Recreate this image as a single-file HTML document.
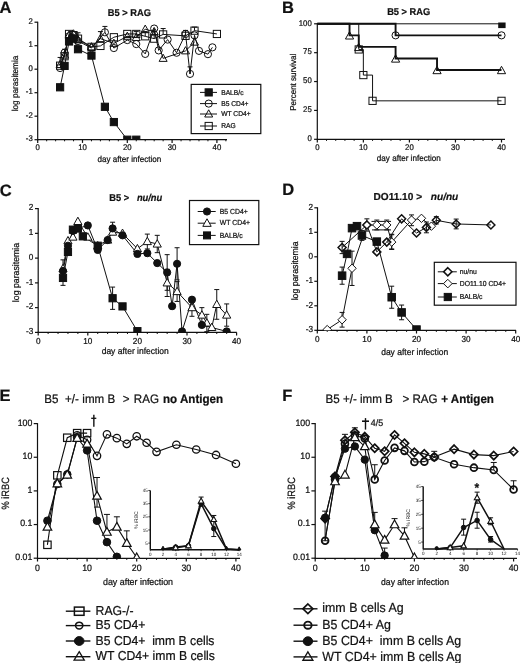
<!DOCTYPE html>
<html><head><meta charset="utf-8"><style>
html,body{margin:0;padding:0;background:#fff;}
svg{display:block;font-family:"Liberation Sans", sans-serif;filter:blur(0.3px);text-rendering:geometricPrecision;}
</style></head><body>
<svg width="520" height="663" viewBox="0 0 520 663">
<defs>
<clipPath id="clipA"><rect x="0" y="0" width="260" height="139.7"/></clipPath>
<clipPath id="clipC"><rect x="0" y="170" width="260" height="162.4"/></clipPath>
<clipPath id="clipD"><rect x="260" y="170" width="260" height="160.3"/></clipPath>
<clipPath id="clipE"><rect x="0" y="380" width="260" height="178.3"/></clipPath>
<clipPath id="clipF"><rect x="260" y="380" width="260" height="178.3"/></clipPath>
</defs>
<rect width="520" height="663" fill="#fff"/>
<text x="0" y="0" transform="translate(-0.5 12.6)" font-size="16.5" text-anchor="start" font-weight="bold" font-style="normal" fill="#111" stroke="#111" stroke-width="0.22">A</text>
<text x="0" y="0" transform="translate(129.3 15.6) scale(1 1.06)" font-size="9.3" text-anchor="middle" font-weight="bold" font-style="normal" fill="#111" stroke="#111" stroke-width="0.22">B5 &gt; RAG</text>
<line x1="37.7" y1="21.7" x2="37.7" y2="140.2" stroke="#111" stroke-width="1.2"/>
<line x1="34.5" y1="22.2" x2="37.7" y2="22.2" stroke="#111" stroke-width="1.2"/>
<text x="0" y="0" transform="translate(32.8 23.92) scale(1 1.06)" font-size="7.8" text-anchor="end" font-weight="normal" font-style="normal" fill="#111" stroke="#111" stroke-width="0.22">2</text>
<line x1="34.5" y1="45.7" x2="37.7" y2="45.7" stroke="#111" stroke-width="1.2"/>
<text x="0" y="0" transform="translate(32.8 47.42) scale(1 1.06)" font-size="7.8" text-anchor="end" font-weight="normal" font-style="normal" fill="#111" stroke="#111" stroke-width="0.22">1</text>
<line x1="34.5" y1="69.2" x2="37.7" y2="69.2" stroke="#111" stroke-width="1.2"/>
<text x="0" y="0" transform="translate(32.8 70.92) scale(1 1.06)" font-size="7.8" text-anchor="end" font-weight="normal" font-style="normal" fill="#111" stroke="#111" stroke-width="0.22">0</text>
<line x1="34.5" y1="92.7" x2="37.7" y2="92.7" stroke="#111" stroke-width="1.2"/>
<text x="0" y="0" transform="translate(32.8 94.42) scale(1 1.06)" font-size="7.8" text-anchor="end" font-weight="normal" font-style="normal" fill="#111" stroke="#111" stroke-width="0.22">-1</text>
<line x1="34.5" y1="116.2" x2="37.7" y2="116.2" stroke="#111" stroke-width="1.2"/>
<text x="0" y="0" transform="translate(32.8 117.92) scale(1 1.06)" font-size="7.8" text-anchor="end" font-weight="normal" font-style="normal" fill="#111" stroke="#111" stroke-width="0.22">-2</text>
<line x1="34.5" y1="139.7" x2="37.7" y2="139.7" stroke="#111" stroke-width="1.2"/>
<text x="0" y="0" transform="translate(32.8 141.42) scale(1 1.06)" font-size="7.8" text-anchor="end" font-weight="normal" font-style="normal" fill="#111" stroke="#111" stroke-width="0.22">-3</text>
<line x1="37.2" y1="139.7" x2="227" y2="139.7" stroke="#111" stroke-width="1.2"/>
<line x1="37.7" y1="139.7" x2="37.7" y2="142.9" stroke="#111" stroke-width="1.2"/>
<text x="0" y="0" transform="translate(37.7 149.6) scale(1 1.06)" font-size="7.8" text-anchor="middle" font-weight="normal" font-style="normal" fill="#111" stroke="#111" stroke-width="0.22">0</text>
<line x1="82.5" y1="139.7" x2="82.5" y2="142.9" stroke="#111" stroke-width="1.2"/>
<text x="0" y="0" transform="translate(82.5 149.6) scale(1 1.06)" font-size="7.8" text-anchor="middle" font-weight="normal" font-style="normal" fill="#111" stroke="#111" stroke-width="0.22">10</text>
<line x1="127.3" y1="139.7" x2="127.3" y2="142.9" stroke="#111" stroke-width="1.2"/>
<text x="0" y="0" transform="translate(127.3 149.6) scale(1 1.06)" font-size="7.8" text-anchor="middle" font-weight="normal" font-style="normal" fill="#111" stroke="#111" stroke-width="0.22">20</text>
<line x1="172.1" y1="139.7" x2="172.1" y2="142.9" stroke="#111" stroke-width="1.2"/>
<text x="0" y="0" transform="translate(172.1 149.6) scale(1 1.06)" font-size="7.8" text-anchor="middle" font-weight="normal" font-style="normal" fill="#111" stroke="#111" stroke-width="0.22">30</text>
<line x1="216.9" y1="139.7" x2="216.9" y2="142.9" stroke="#111" stroke-width="1.2"/>
<text x="0" y="0" transform="translate(216.9 149.6) scale(1 1.06)" font-size="7.8" text-anchor="middle" font-weight="normal" font-style="normal" fill="#111" stroke="#111" stroke-width="0.22">40</text>
<line x1="46.66" y1="139.7" x2="46.66" y2="141.3" stroke="#111" stroke-width="1.0"/>
<line x1="55.62" y1="139.7" x2="55.62" y2="141.3" stroke="#111" stroke-width="1.0"/>
<line x1="64.58" y1="139.7" x2="64.58" y2="141.3" stroke="#111" stroke-width="1.0"/>
<line x1="73.54" y1="139.7" x2="73.54" y2="141.3" stroke="#111" stroke-width="1.0"/>
<line x1="91.46" y1="139.7" x2="91.46" y2="141.3" stroke="#111" stroke-width="1.0"/>
<line x1="100.42" y1="139.7" x2="100.42" y2="141.3" stroke="#111" stroke-width="1.0"/>
<line x1="109.38" y1="139.7" x2="109.38" y2="141.3" stroke="#111" stroke-width="1.0"/>
<line x1="118.34" y1="139.7" x2="118.34" y2="141.3" stroke="#111" stroke-width="1.0"/>
<line x1="136.26" y1="139.7" x2="136.26" y2="141.3" stroke="#111" stroke-width="1.0"/>
<line x1="145.22" y1="139.7" x2="145.22" y2="141.3" stroke="#111" stroke-width="1.0"/>
<line x1="154.18" y1="139.7" x2="154.18" y2="141.3" stroke="#111" stroke-width="1.0"/>
<line x1="163.14" y1="139.7" x2="163.14" y2="141.3" stroke="#111" stroke-width="1.0"/>
<line x1="181.06" y1="139.7" x2="181.06" y2="141.3" stroke="#111" stroke-width="1.0"/>
<line x1="190.02" y1="139.7" x2="190.02" y2="141.3" stroke="#111" stroke-width="1.0"/>
<line x1="198.98" y1="139.7" x2="198.98" y2="141.3" stroke="#111" stroke-width="1.0"/>
<line x1="207.94" y1="139.7" x2="207.94" y2="141.3" stroke="#111" stroke-width="1.0"/>
<line x1="225.86" y1="139.7" x2="225.86" y2="141.3" stroke="#111" stroke-width="1.0"/>
<text x="0" y="0" transform="translate(129.4 162.1) scale(1 1.06)" font-size="8.1" text-anchor="middle" font-weight="normal" font-style="normal" fill="#111" stroke="#111" stroke-width="0.22">day after infection</text>
<text x="0" y="0" transform="translate(18 83.5) rotate(-90) scale(1 1.06)" font-size="8.2" text-anchor="middle" font-weight="normal" font-style="normal" fill="#111" stroke="#111" stroke-width="0.22">log parasitemia</text>
<g clip-path="url(#clipA)">
<polyline points="60.1,65.67 64.58,56.27 69.06,33.95 73.54,35.12 78.02,38.65 91.46,46.87 100.42,45.93 113.86,37.24 127.3,33.95 136.26,33.95 145.22,36.3 154.18,38.65 163.14,34.42 185.54,35.83 194.5,30.66 216.9,33.95" fill="none" stroke="#111" stroke-width="1.0" stroke-linejoin="miter"/>
<polyline points="60.1,64.5 64.58,55.1 69.06,35.12 73.54,33.95 78.02,39.82 91.46,46.87 100.42,38.65 113.86,43.35 127.3,36.3 136.26,37.47 145.22,29.25 154.18,31.6 163.14,58.39 185.54,50.87 194.5,42.17" fill="none" stroke="#111" stroke-width="1.0" stroke-linejoin="miter"/>
<polyline points="60.1,68.02 64.58,52.75 69.06,36.3 73.54,35.12 78.02,41 91.46,48.05 104.9,32.3 113.86,48.05 127.3,40.06 136.26,44.05 145.22,53.92 154.18,28.54 158.66,50.4 167.62,39.59 176.58,52.75 185.54,33.95 190.02,73.9 194.5,35.36 198.98,50.87 207.94,54.16 212.42,47.34" fill="none" stroke="#111" stroke-width="1.0" stroke-linejoin="miter"/>
<polyline points="60.1,87.29 64.58,65.91 69.06,41.47 73.54,38.65 78.02,49.22 91.46,55.57 104.9,106.8 113.86,122.07 127.3,139.7 136.26,139.7" fill="none" stroke="#111" stroke-width="1.0" stroke-linejoin="miter"/>
<line x1="60.1" y1="65.67" x2="60.1" y2="57.45" stroke="#111" stroke-width="1.0"/>
<line x1="57.6" y1="57.45" x2="62.6" y2="57.45" stroke="#111" stroke-width="1.0"/>
<line x1="64.58" y1="56.27" x2="64.58" y2="49.22" stroke="#111" stroke-width="1.0"/>
<line x1="62.08" y1="49.22" x2="67.08" y2="49.22" stroke="#111" stroke-width="1.0"/>
<line x1="78.02" y1="38.65" x2="78.02" y2="32.77" stroke="#111" stroke-width="1.0"/>
<line x1="75.52" y1="32.77" x2="80.52" y2="32.77" stroke="#111" stroke-width="1.0"/>
<line x1="100.42" y1="38.65" x2="100.42" y2="31.6" stroke="#111" stroke-width="1.0"/>
<line x1="97.92" y1="31.6" x2="102.92" y2="31.6" stroke="#111" stroke-width="1.0"/>
<line x1="145.22" y1="36.3" x2="145.22" y2="31.6" stroke="#111" stroke-width="1.0"/>
<line x1="142.72" y1="31.6" x2="147.72" y2="31.6" stroke="#111" stroke-width="1.0"/>
<line x1="154.18" y1="38.65" x2="154.18" y2="31.6" stroke="#111" stroke-width="1.0"/>
<line x1="151.68" y1="31.6" x2="156.68" y2="31.6" stroke="#111" stroke-width="1.0"/>
<line x1="163.14" y1="34.42" x2="163.14" y2="28.54" stroke="#111" stroke-width="1.0"/>
<line x1="160.64" y1="28.54" x2="165.64" y2="28.54" stroke="#111" stroke-width="1.0"/>
<line x1="190.02" y1="73.9" x2="190.02" y2="66.85" stroke="#111" stroke-width="1.0"/>
<line x1="187.52" y1="66.85" x2="192.52" y2="66.85" stroke="#111" stroke-width="1.0"/>
<line x1="194.5" y1="30.66" x2="194.5" y2="27.13" stroke="#111" stroke-width="1.0"/>
<line x1="192" y1="27.13" x2="197" y2="27.13" stroke="#111" stroke-width="1.0"/>
<line x1="185.54" y1="33.95" x2="185.54" y2="30.42" stroke="#111" stroke-width="1.0"/>
<line x1="183.04" y1="30.42" x2="188.04" y2="30.42" stroke="#111" stroke-width="1.0"/>
<line x1="104.9" y1="32.3" x2="104.9" y2="26.43" stroke="#111" stroke-width="1.0"/>
<line x1="102.4" y1="26.43" x2="107.4" y2="26.43" stroke="#111" stroke-width="1.0"/>
<line x1="136.26" y1="37.47" x2="136.26" y2="31.6" stroke="#111" stroke-width="1.0"/>
<line x1="133.76" y1="31.6" x2="138.76" y2="31.6" stroke="#111" stroke-width="1.0"/>
<rect x="56.5" y="62.07" width="7.2" height="7.2" fill="none" stroke="#111" stroke-width="1.0"/>
<rect x="60.98" y="52.67" width="7.2" height="7.2" fill="none" stroke="#111" stroke-width="1.0"/>
<rect x="65.46" y="30.35" width="7.2" height="7.2" fill="none" stroke="#111" stroke-width="1.0"/>
<rect x="69.94" y="31.52" width="7.2" height="7.2" fill="none" stroke="#111" stroke-width="1.0"/>
<rect x="74.42" y="35.05" width="7.2" height="7.2" fill="none" stroke="#111" stroke-width="1.0"/>
<rect x="87.86" y="43.27" width="7.2" height="7.2" fill="none" stroke="#111" stroke-width="1.0"/>
<rect x="96.82" y="42.33" width="7.2" height="7.2" fill="none" stroke="#111" stroke-width="1.0"/>
<rect x="110.26" y="33.64" width="7.2" height="7.2" fill="none" stroke="#111" stroke-width="1.0"/>
<rect x="123.7" y="30.35" width="7.2" height="7.2" fill="none" stroke="#111" stroke-width="1.0"/>
<rect x="132.66" y="30.35" width="7.2" height="7.2" fill="none" stroke="#111" stroke-width="1.0"/>
<rect x="141.62" y="32.7" width="7.2" height="7.2" fill="none" stroke="#111" stroke-width="1.0"/>
<rect x="150.58" y="35.05" width="7.2" height="7.2" fill="none" stroke="#111" stroke-width="1.0"/>
<rect x="159.54" y="30.82" width="7.2" height="7.2" fill="none" stroke="#111" stroke-width="1.0"/>
<rect x="181.94" y="32.23" width="7.2" height="7.2" fill="none" stroke="#111" stroke-width="1.0"/>
<rect x="190.9" y="27.06" width="7.2" height="7.2" fill="none" stroke="#111" stroke-width="1.0"/>
<rect x="213.3" y="30.35" width="7.2" height="7.2" fill="none" stroke="#111" stroke-width="1.0"/>
<polygon points="60.1,60.3 64.1,67.5 56.1,67.5" fill="none" stroke="#111" stroke-width="1.0" stroke-linejoin="miter"/>
<polygon points="64.58,50.9 68.58,58.1 60.58,58.1" fill="none" stroke="#111" stroke-width="1.0" stroke-linejoin="miter"/>
<polygon points="69.06,30.92 73.06,38.12 65.06,38.12" fill="none" stroke="#111" stroke-width="1.0" stroke-linejoin="miter"/>
<polygon points="73.54,29.75 77.54,36.95 69.54,36.95" fill="none" stroke="#111" stroke-width="1.0" stroke-linejoin="miter"/>
<polygon points="78.02,35.62 82.02,42.82 74.02,42.82" fill="none" stroke="#111" stroke-width="1.0" stroke-linejoin="miter"/>
<polygon points="91.46,42.67 95.46,49.87 87.46,49.87" fill="none" stroke="#111" stroke-width="1.0" stroke-linejoin="miter"/>
<polygon points="100.42,34.45 104.42,41.65 96.42,41.65" fill="none" stroke="#111" stroke-width="1.0" stroke-linejoin="miter"/>
<polygon points="113.86,39.15 117.86,46.35 109.86,46.35" fill="none" stroke="#111" stroke-width="1.0" stroke-linejoin="miter"/>
<polygon points="127.3,32.1 131.3,39.3 123.3,39.3" fill="none" stroke="#111" stroke-width="1.0" stroke-linejoin="miter"/>
<polygon points="136.26,33.27 140.26,40.47 132.26,40.47" fill="none" stroke="#111" stroke-width="1.0" stroke-linejoin="miter"/>
<polygon points="145.22,25.05 149.22,32.25 141.22,32.25" fill="none" stroke="#111" stroke-width="1.0" stroke-linejoin="miter"/>
<polygon points="154.18,27.4 158.18,34.6 150.18,34.6" fill="none" stroke="#111" stroke-width="1.0" stroke-linejoin="miter"/>
<polygon points="163.14,54.19 167.14,61.39 159.14,61.39" fill="none" stroke="#111" stroke-width="1.0" stroke-linejoin="miter"/>
<polygon points="185.54,46.67 189.54,53.87 181.54,53.87" fill="none" stroke="#111" stroke-width="1.0" stroke-linejoin="miter"/>
<polygon points="194.5,37.97 198.5,45.17 190.5,45.17" fill="none" stroke="#111" stroke-width="1.0" stroke-linejoin="miter"/>
<circle cx="60.1" cy="68.02" r="3.6" fill="none" stroke="#111" stroke-width="1.0"/>
<circle cx="64.58" cy="52.75" r="3.6" fill="none" stroke="#111" stroke-width="1.0"/>
<circle cx="69.06" cy="36.3" r="3.6" fill="none" stroke="#111" stroke-width="1.0"/>
<circle cx="73.54" cy="35.12" r="3.6" fill="none" stroke="#111" stroke-width="1.0"/>
<circle cx="78.02" cy="41" r="3.6" fill="none" stroke="#111" stroke-width="1.0"/>
<circle cx="91.46" cy="48.05" r="3.6" fill="none" stroke="#111" stroke-width="1.0"/>
<circle cx="104.9" cy="32.3" r="3.6" fill="none" stroke="#111" stroke-width="1.0"/>
<circle cx="113.86" cy="48.05" r="3.6" fill="none" stroke="#111" stroke-width="1.0"/>
<circle cx="127.3" cy="40.06" r="3.6" fill="none" stroke="#111" stroke-width="1.0"/>
<circle cx="136.26" cy="44.05" r="3.6" fill="none" stroke="#111" stroke-width="1.0"/>
<circle cx="145.22" cy="53.92" r="3.6" fill="none" stroke="#111" stroke-width="1.0"/>
<circle cx="154.18" cy="28.54" r="3.6" fill="none" stroke="#111" stroke-width="1.0"/>
<circle cx="158.66" cy="50.4" r="3.6" fill="none" stroke="#111" stroke-width="1.0"/>
<circle cx="167.62" cy="39.59" r="3.6" fill="none" stroke="#111" stroke-width="1.0"/>
<circle cx="176.58" cy="52.75" r="3.6" fill="none" stroke="#111" stroke-width="1.0"/>
<circle cx="185.54" cy="33.95" r="3.6" fill="none" stroke="#111" stroke-width="1.0"/>
<circle cx="190.02" cy="73.9" r="3.6" fill="none" stroke="#111" stroke-width="1.0"/>
<circle cx="194.5" cy="35.36" r="3.6" fill="none" stroke="#111" stroke-width="1.0"/>
<circle cx="198.98" cy="50.87" r="3.6" fill="none" stroke="#111" stroke-width="1.0"/>
<circle cx="207.94" cy="54.16" r="3.6" fill="none" stroke="#111" stroke-width="1.0"/>
<circle cx="212.42" cy="47.34" r="3.6" fill="none" stroke="#111" stroke-width="1.0"/>
<rect x="56.5" y="83.69" width="7.2" height="7.2" fill="#111" stroke="#111" stroke-width="1.0"/>
<rect x="60.98" y="62.31" width="7.2" height="7.2" fill="#111" stroke="#111" stroke-width="1.0"/>
<rect x="65.46" y="37.87" width="7.2" height="7.2" fill="#111" stroke="#111" stroke-width="1.0"/>
<rect x="69.94" y="35.05" width="7.2" height="7.2" fill="#111" stroke="#111" stroke-width="1.0"/>
<rect x="74.42" y="45.62" width="7.2" height="7.2" fill="#111" stroke="#111" stroke-width="1.0"/>
<rect x="87.86" y="51.97" width="7.2" height="7.2" fill="#111" stroke="#111" stroke-width="1.0"/>
<rect x="101.3" y="103.2" width="7.2" height="7.2" fill="#111" stroke="#111" stroke-width="1.0"/>
<rect x="110.26" y="118.47" width="7.2" height="7.2" fill="#111" stroke="#111" stroke-width="1.0"/>
<rect x="123.7" y="136.1" width="7.2" height="7.2" fill="#111" stroke="#111" stroke-width="1.0"/>
<rect x="132.66" y="136.1" width="7.2" height="7.2" fill="#111" stroke="#111" stroke-width="1.0"/>
</g>
<rect x="191.2" y="84.4" width="69.6" height="49.2" fill="#fff" stroke="#111" stroke-width="1.2"/>
<line x1="200" y1="92.4" x2="217" y2="92.4" stroke="#111" stroke-width="1.0"/>
<rect x="205.1" y="88.8" width="7.2" height="7.2" fill="#111" stroke="#111" stroke-width="1.0"/>
<text x="0" y="0" transform="translate(221.2 94.5) scale(1 1.06)" font-size="6.7" text-anchor="start" font-weight="normal" font-style="normal" fill="#111" stroke="#111" stroke-width="0.22">BALB/c</text>
<line x1="200" y1="103.6" x2="217" y2="103.6" stroke="#111" stroke-width="1.0"/>
<circle cx="208.7" cy="103.6" r="3.6" fill="none" stroke="#111" stroke-width="1.0"/>
<text x="0" y="0" transform="translate(221.2 105.7) scale(1 1.06)" font-size="6.7" text-anchor="start" font-weight="normal" font-style="normal" fill="#111" stroke="#111" stroke-width="0.22">B5 CD4+</text>
<line x1="200" y1="114" x2="217" y2="114" stroke="#111" stroke-width="1.0"/>
<polygon points="208.7,109.8 212.7,117 204.7,117" fill="none" stroke="#111" stroke-width="1.0" stroke-linejoin="miter"/>
<text x="0" y="0" transform="translate(221.2 116.1) scale(1 1.06)" font-size="6.7" text-anchor="start" font-weight="normal" font-style="normal" fill="#111" stroke="#111" stroke-width="0.22">WT CD4+</text>
<line x1="200" y1="126" x2="217" y2="126" stroke="#111" stroke-width="1.0"/>
<rect x="205.1" y="122.4" width="7.2" height="7.2" fill="none" stroke="#111" stroke-width="1.0"/>
<text x="0" y="0" transform="translate(221.2 128.1) scale(1 1.06)" font-size="6.7" text-anchor="start" font-weight="normal" font-style="normal" fill="#111" stroke="#111" stroke-width="0.22">RAG</text>
<text x="0" y="0" transform="translate(282 12.6)" font-size="16.5" text-anchor="start" font-weight="bold" font-style="normal" fill="#111" stroke="#111" stroke-width="0.22">B</text>
<text x="0" y="0" transform="translate(408.7 15.4) scale(1 1.06)" font-size="9.3" text-anchor="middle" font-weight="bold" font-style="normal" fill="#111" stroke="#111" stroke-width="0.22">B5 &gt; RAG</text>
<line x1="317.3" y1="23.3" x2="317.3" y2="139.8" stroke="#111" stroke-width="1.2"/>
<line x1="314.1" y1="23.8" x2="317.3" y2="23.8" stroke="#111" stroke-width="1.2"/>
<text x="0" y="0" transform="translate(311.8 25.52) scale(1 1.06)" font-size="7.8" text-anchor="end" font-weight="normal" font-style="normal" fill="#111" stroke="#111" stroke-width="0.22">100</text>
<line x1="314.1" y1="52.68" x2="317.3" y2="52.68" stroke="#111" stroke-width="1.2"/>
<text x="0" y="0" transform="translate(311.8 54.39) scale(1 1.06)" font-size="7.8" text-anchor="end" font-weight="normal" font-style="normal" fill="#111" stroke="#111" stroke-width="0.22">75</text>
<line x1="314.1" y1="81.55" x2="317.3" y2="81.55" stroke="#111" stroke-width="1.2"/>
<text x="0" y="0" transform="translate(311.8 83.27) scale(1 1.06)" font-size="7.8" text-anchor="end" font-weight="normal" font-style="normal" fill="#111" stroke="#111" stroke-width="0.22">50</text>
<line x1="314.1" y1="110.43" x2="317.3" y2="110.43" stroke="#111" stroke-width="1.2"/>
<text x="0" y="0" transform="translate(311.8 112.14) scale(1 1.06)" font-size="7.8" text-anchor="end" font-weight="normal" font-style="normal" fill="#111" stroke="#111" stroke-width="0.22">25</text>
<line x1="314.1" y1="139.3" x2="317.3" y2="139.3" stroke="#111" stroke-width="1.2"/>
<text x="0" y="0" transform="translate(311.8 141.02) scale(1 1.06)" font-size="7.8" text-anchor="end" font-weight="normal" font-style="normal" fill="#111" stroke="#111" stroke-width="0.22">0</text>
<line x1="316.8" y1="139.3" x2="505" y2="139.3" stroke="#111" stroke-width="1.2"/>
<line x1="317.3" y1="139.3" x2="317.3" y2="142.5" stroke="#111" stroke-width="1.2"/>
<text x="0" y="0" transform="translate(317.3 149.5) scale(1 1.06)" font-size="7.8" text-anchor="middle" font-weight="normal" font-style="normal" fill="#111" stroke="#111" stroke-width="0.22">0</text>
<line x1="363.35" y1="139.3" x2="363.35" y2="142.5" stroke="#111" stroke-width="1.2"/>
<text x="0" y="0" transform="translate(363.35 149.5) scale(1 1.06)" font-size="7.8" text-anchor="middle" font-weight="normal" font-style="normal" fill="#111" stroke="#111" stroke-width="0.22">10</text>
<line x1="409.4" y1="139.3" x2="409.4" y2="142.5" stroke="#111" stroke-width="1.2"/>
<text x="0" y="0" transform="translate(409.4 149.5) scale(1 1.06)" font-size="7.8" text-anchor="middle" font-weight="normal" font-style="normal" fill="#111" stroke="#111" stroke-width="0.22">20</text>
<line x1="455.45" y1="139.3" x2="455.45" y2="142.5" stroke="#111" stroke-width="1.2"/>
<text x="0" y="0" transform="translate(455.45 149.5) scale(1 1.06)" font-size="7.8" text-anchor="middle" font-weight="normal" font-style="normal" fill="#111" stroke="#111" stroke-width="0.22">30</text>
<line x1="501.5" y1="139.3" x2="501.5" y2="142.5" stroke="#111" stroke-width="1.2"/>
<text x="0" y="0" transform="translate(501.5 149.5) scale(1 1.06)" font-size="7.8" text-anchor="middle" font-weight="normal" font-style="normal" fill="#111" stroke="#111" stroke-width="0.22">40</text>
<line x1="326.51" y1="139.3" x2="326.51" y2="140.9" stroke="#111" stroke-width="1.0"/>
<line x1="335.72" y1="139.3" x2="335.72" y2="140.9" stroke="#111" stroke-width="1.0"/>
<line x1="344.93" y1="139.3" x2="344.93" y2="140.9" stroke="#111" stroke-width="1.0"/>
<line x1="354.14" y1="139.3" x2="354.14" y2="140.9" stroke="#111" stroke-width="1.0"/>
<line x1="372.56" y1="139.3" x2="372.56" y2="140.9" stroke="#111" stroke-width="1.0"/>
<line x1="381.77" y1="139.3" x2="381.77" y2="140.9" stroke="#111" stroke-width="1.0"/>
<line x1="390.98" y1="139.3" x2="390.98" y2="140.9" stroke="#111" stroke-width="1.0"/>
<line x1="400.19" y1="139.3" x2="400.19" y2="140.9" stroke="#111" stroke-width="1.0"/>
<line x1="418.61" y1="139.3" x2="418.61" y2="140.9" stroke="#111" stroke-width="1.0"/>
<line x1="427.82" y1="139.3" x2="427.82" y2="140.9" stroke="#111" stroke-width="1.0"/>
<line x1="437.03" y1="139.3" x2="437.03" y2="140.9" stroke="#111" stroke-width="1.0"/>
<line x1="446.24" y1="139.3" x2="446.24" y2="140.9" stroke="#111" stroke-width="1.0"/>
<line x1="464.66" y1="139.3" x2="464.66" y2="140.9" stroke="#111" stroke-width="1.0"/>
<line x1="473.87" y1="139.3" x2="473.87" y2="140.9" stroke="#111" stroke-width="1.0"/>
<line x1="483.08" y1="139.3" x2="483.08" y2="140.9" stroke="#111" stroke-width="1.0"/>
<line x1="492.29" y1="139.3" x2="492.29" y2="140.9" stroke="#111" stroke-width="1.0"/>
<text x="0" y="0" transform="translate(408.8 160.8) scale(1 1.06)" font-size="8.1" text-anchor="middle" font-weight="normal" font-style="normal" fill="#111" stroke="#111" stroke-width="0.22">day after infection</text>
<text x="0" y="0" transform="translate(296.3 82.3) rotate(-90) scale(1 1.06)" font-size="8.0" text-anchor="middle" font-weight="normal" font-style="normal" fill="#111" stroke="#111" stroke-width="0.22">Percent survival</text>
<polyline points="317.3,23.8 501.5,23.8" fill="none" stroke="#111" stroke-width="1.0" stroke-linejoin="miter"/>
<polyline points="317.3,23.8 358.75,23.8 358.75,49.44 363.35,49.44 363.35,75.08 372.56,75.08 372.56,100.84 501.5,100.84" fill="none" stroke="#111" stroke-width="1.0" stroke-linejoin="miter"/>
<polyline points="317.3,23.8 349.54,23.8 349.54,35.35 358.75,35.35 358.75,46.9 395.59,46.9 395.59,58.45 437.03,58.45 437.03,70 501.5,70" fill="none" stroke="#111" stroke-width="1.9" stroke-linejoin="miter"/>
<polyline points="317.3,23.8 395.59,23.8 395.59,35.35 501.5,35.35" fill="none" stroke="#111" stroke-width="1.9" stroke-linejoin="miter"/>
<polygon points="349.54,31.65 353.64,39.03 345.44,39.03" fill="none" stroke="#111" stroke-width="1.0" stroke-linejoin="miter"/>
<polygon points="395.59,54.75 399.69,62.13 391.49,62.13" fill="none" stroke="#111" stroke-width="1.0" stroke-linejoin="miter"/>
<polygon points="437.03,66.3 441.13,73.68 432.93,73.68" fill="none" stroke="#111" stroke-width="1.0" stroke-linejoin="miter"/>
<polygon points="501.5,66.3 505.6,73.68 497.4,73.68" fill="none" stroke="#111" stroke-width="1.0" stroke-linejoin="miter"/>
<polygon points="358.75,43.2 362.85,50.58 354.64,50.58" fill="none" stroke="#111" stroke-width="1.0" stroke-linejoin="miter"/>
<rect x="355.14" y="45.84" width="7.2" height="7.2" fill="none" stroke="#111" stroke-width="1.0"/>
<rect x="359.75" y="71.48" width="7.2" height="7.2" fill="none" stroke="#111" stroke-width="1.0"/>
<rect x="368.96" y="97.24" width="7.2" height="7.2" fill="none" stroke="#111" stroke-width="1.0"/>
<rect x="497.9" y="97.24" width="7.2" height="7.2" fill="none" stroke="#111" stroke-width="1.0"/>
<circle cx="395.59" cy="35.35" r="3.6" fill="none" stroke="#111" stroke-width="1.0"/>
<circle cx="501.5" cy="35.35" r="3.6" fill="none" stroke="#111" stroke-width="1.0"/>
<rect x="498.2" y="22.5" width="7.4" height="5.6" fill="#111"/>
<text x="0" y="0" transform="translate(-0.3 195.6)" font-size="16.5" text-anchor="start" font-weight="bold" font-style="normal" fill="#111" stroke="#111" stroke-width="0.22">C</text>
<text x="0" y="0" transform="translate(109.2 200.8) scale(1 1.06)" font-size="9.3" text-anchor="start" font-weight="bold" font-style="normal" fill="#111" stroke="#111" stroke-width="0.22">B5 &gt;</text>
<text x="0" y="0" transform="translate(136.9 200.8) scale(1 1.06)" font-size="9.3" text-anchor="start" font-weight="bold" font-style="italic" fill="#111" stroke="#111" stroke-width="0.22">nu/nu</text>
<line x1="38.2" y1="208.1" x2="38.2" y2="332.9" stroke="#111" stroke-width="1.2"/>
<line x1="35" y1="208.6" x2="38.2" y2="208.6" stroke="#111" stroke-width="1.2"/>
<text x="0" y="0" transform="translate(33.2 210.4) scale(1 1.06)" font-size="8.2" text-anchor="end" font-weight="normal" font-style="normal" fill="#111" stroke="#111" stroke-width="0.22">2</text>
<line x1="35" y1="233.36" x2="38.2" y2="233.36" stroke="#111" stroke-width="1.2"/>
<text x="0" y="0" transform="translate(33.2 235.16) scale(1 1.06)" font-size="8.2" text-anchor="end" font-weight="normal" font-style="normal" fill="#111" stroke="#111" stroke-width="0.22">1</text>
<line x1="35" y1="258.12" x2="38.2" y2="258.12" stroke="#111" stroke-width="1.2"/>
<text x="0" y="0" transform="translate(33.2 259.92) scale(1 1.06)" font-size="8.2" text-anchor="end" font-weight="normal" font-style="normal" fill="#111" stroke="#111" stroke-width="0.22">0</text>
<line x1="35" y1="282.88" x2="38.2" y2="282.88" stroke="#111" stroke-width="1.2"/>
<text x="0" y="0" transform="translate(33.2 284.68) scale(1 1.06)" font-size="8.2" text-anchor="end" font-weight="normal" font-style="normal" fill="#111" stroke="#111" stroke-width="0.22">-1</text>
<line x1="35" y1="307.64" x2="38.2" y2="307.64" stroke="#111" stroke-width="1.2"/>
<text x="0" y="0" transform="translate(33.2 309.44) scale(1 1.06)" font-size="8.2" text-anchor="end" font-weight="normal" font-style="normal" fill="#111" stroke="#111" stroke-width="0.22">-2</text>
<line x1="35" y1="332.4" x2="38.2" y2="332.4" stroke="#111" stroke-width="1.2"/>
<text x="0" y="0" transform="translate(33.2 334.2) scale(1 1.06)" font-size="8.2" text-anchor="end" font-weight="normal" font-style="normal" fill="#111" stroke="#111" stroke-width="0.22">-3</text>
<line x1="37.7" y1="332.4" x2="236.8" y2="332.4" stroke="#111" stroke-width="1.2"/>
<line x1="38.2" y1="332.4" x2="38.2" y2="335.6" stroke="#111" stroke-width="1.2"/>
<text x="0" y="0" transform="translate(38.2 344) scale(1 1.06)" font-size="8.2" text-anchor="middle" font-weight="normal" font-style="normal" fill="#111" stroke="#111" stroke-width="0.22">0</text>
<line x1="87.8" y1="332.4" x2="87.8" y2="335.6" stroke="#111" stroke-width="1.2"/>
<text x="0" y="0" transform="translate(87.8 344) scale(1 1.06)" font-size="8.2" text-anchor="middle" font-weight="normal" font-style="normal" fill="#111" stroke="#111" stroke-width="0.22">10</text>
<line x1="137.4" y1="332.4" x2="137.4" y2="335.6" stroke="#111" stroke-width="1.2"/>
<text x="0" y="0" transform="translate(137.4 344) scale(1 1.06)" font-size="8.2" text-anchor="middle" font-weight="normal" font-style="normal" fill="#111" stroke="#111" stroke-width="0.22">20</text>
<line x1="187" y1="332.4" x2="187" y2="335.6" stroke="#111" stroke-width="1.2"/>
<text x="0" y="0" transform="translate(187 344) scale(1 1.06)" font-size="8.2" text-anchor="middle" font-weight="normal" font-style="normal" fill="#111" stroke="#111" stroke-width="0.22">30</text>
<line x1="236.6" y1="332.4" x2="236.6" y2="335.6" stroke="#111" stroke-width="1.2"/>
<text x="0" y="0" transform="translate(236.6 344) scale(1 1.06)" font-size="8.2" text-anchor="middle" font-weight="normal" font-style="normal" fill="#111" stroke="#111" stroke-width="0.22">40</text>
<line x1="48.12" y1="332.4" x2="48.12" y2="334" stroke="#111" stroke-width="1.0"/>
<line x1="58.04" y1="332.4" x2="58.04" y2="334" stroke="#111" stroke-width="1.0"/>
<line x1="67.96" y1="332.4" x2="67.96" y2="334" stroke="#111" stroke-width="1.0"/>
<line x1="77.88" y1="332.4" x2="77.88" y2="334" stroke="#111" stroke-width="1.0"/>
<line x1="97.72" y1="332.4" x2="97.72" y2="334" stroke="#111" stroke-width="1.0"/>
<line x1="107.64" y1="332.4" x2="107.64" y2="334" stroke="#111" stroke-width="1.0"/>
<line x1="117.56" y1="332.4" x2="117.56" y2="334" stroke="#111" stroke-width="1.0"/>
<line x1="127.48" y1="332.4" x2="127.48" y2="334" stroke="#111" stroke-width="1.0"/>
<line x1="147.32" y1="332.4" x2="147.32" y2="334" stroke="#111" stroke-width="1.0"/>
<line x1="157.24" y1="332.4" x2="157.24" y2="334" stroke="#111" stroke-width="1.0"/>
<line x1="167.16" y1="332.4" x2="167.16" y2="334" stroke="#111" stroke-width="1.0"/>
<line x1="177.08" y1="332.4" x2="177.08" y2="334" stroke="#111" stroke-width="1.0"/>
<line x1="196.92" y1="332.4" x2="196.92" y2="334" stroke="#111" stroke-width="1.0"/>
<line x1="206.84" y1="332.4" x2="206.84" y2="334" stroke="#111" stroke-width="1.0"/>
<line x1="216.76" y1="332.4" x2="216.76" y2="334" stroke="#111" stroke-width="1.0"/>
<line x1="226.68" y1="332.4" x2="226.68" y2="334" stroke="#111" stroke-width="1.0"/>
<text x="0" y="0" transform="translate(135.2 354) scale(1 1.06)" font-size="8.5" text-anchor="middle" font-weight="normal" font-style="normal" fill="#111" stroke="#111" stroke-width="0.22">day after infection</text>
<text x="0" y="0" transform="translate(18.8 272.5) rotate(-90) scale(1 1.06)" font-size="8.75" text-anchor="middle" font-weight="normal" font-style="normal" fill="#111" stroke="#111" stroke-width="0.22">log parasitemia</text>
<g clip-path="url(#clipC)">
<polyline points="63,277.93 67.96,251.93 72.92,229.65 77.88,228.41 82.84,236.33 97.72,245.74 112.6,298.23 122.52,306.4 137.4,331.16" fill="none" stroke="#111" stroke-width="1.0" stroke-linejoin="miter"/>
<polyline points="63,271 67.96,245.74 72.92,230.88 77.88,228.41 87.8,225.44 97.72,249.95 107.64,240.05 112.6,228.41 122.52,235.34 137.4,253.91 147.32,253.17 157.24,263.07 167.16,272.48 172.12,306.15 177.08,263.81 182.04,331.41 191.96,299.72 201.88,324.97 226.68,331.41" fill="none" stroke="#111" stroke-width="1.0" stroke-linejoin="miter"/>
<polyline points="63,268.52 67.96,240.79 72.92,237.07 77.88,221.48 87.8,237.07 97.72,245.74 107.64,240.05 112.6,232.12 122.52,233.36 137.4,248.71 147.32,241.53 157.24,244.01 167.16,282.88 177.08,291.55 191.96,307.64 201.88,315.07 206.84,322.99 211.8,327.45 216.76,304.42 226.68,315.07" fill="none" stroke="#111" stroke-width="1.0" stroke-linejoin="miter"/>
<line x1="63" y1="277.19" x2="63" y2="259.85" stroke="#111" stroke-width="1.0"/>
<line x1="60.5" y1="277.19" x2="65.5" y2="277.19" stroke="#111" stroke-width="1.0"/>
<line x1="60.5" y1="259.85" x2="65.5" y2="259.85" stroke="#111" stroke-width="1.0"/>
<line x1="63" y1="285.36" x2="63" y2="270.5" stroke="#111" stroke-width="1.0"/>
<line x1="60.5" y1="285.36" x2="65.5" y2="285.36" stroke="#111" stroke-width="1.0"/>
<line x1="60.5" y1="270.5" x2="65.5" y2="270.5" stroke="#111" stroke-width="1.0"/>
<line x1="112.6" y1="234.6" x2="112.6" y2="222.22" stroke="#111" stroke-width="1.0"/>
<line x1="110.1" y1="234.6" x2="115.1" y2="234.6" stroke="#111" stroke-width="1.0"/>
<line x1="110.1" y1="222.22" x2="115.1" y2="222.22" stroke="#111" stroke-width="1.0"/>
<line x1="147.32" y1="248.96" x2="147.32" y2="234.1" stroke="#111" stroke-width="1.0"/>
<line x1="144.82" y1="248.96" x2="149.82" y2="248.96" stroke="#111" stroke-width="1.0"/>
<line x1="144.82" y1="234.1" x2="149.82" y2="234.1" stroke="#111" stroke-width="1.0"/>
<line x1="157.24" y1="252.67" x2="157.24" y2="235.34" stroke="#111" stroke-width="1.0"/>
<line x1="154.74" y1="252.67" x2="159.74" y2="252.67" stroke="#111" stroke-width="1.0"/>
<line x1="154.74" y1="235.34" x2="159.74" y2="235.34" stroke="#111" stroke-width="1.0"/>
<line x1="167.16" y1="296.5" x2="167.16" y2="269.26" stroke="#111" stroke-width="1.0"/>
<line x1="164.66" y1="296.5" x2="169.66" y2="296.5" stroke="#111" stroke-width="1.0"/>
<line x1="164.66" y1="269.26" x2="169.66" y2="269.26" stroke="#111" stroke-width="1.0"/>
<line x1="167.16" y1="290.31" x2="167.16" y2="254.65" stroke="#111" stroke-width="1.0"/>
<line x1="164.66" y1="290.31" x2="169.66" y2="290.31" stroke="#111" stroke-width="1.0"/>
<line x1="164.66" y1="254.65" x2="169.66" y2="254.65" stroke="#111" stroke-width="1.0"/>
<line x1="177.08" y1="279.91" x2="177.08" y2="247.72" stroke="#111" stroke-width="1.0"/>
<line x1="174.58" y1="279.91" x2="179.58" y2="279.91" stroke="#111" stroke-width="1.0"/>
<line x1="174.58" y1="247.72" x2="179.58" y2="247.72" stroke="#111" stroke-width="1.0"/>
<line x1="177.08" y1="301.45" x2="177.08" y2="281.64" stroke="#111" stroke-width="1.0"/>
<line x1="174.58" y1="301.45" x2="179.58" y2="301.45" stroke="#111" stroke-width="1.0"/>
<line x1="174.58" y1="281.64" x2="179.58" y2="281.64" stroke="#111" stroke-width="1.0"/>
<line x1="201.88" y1="322.5" x2="201.88" y2="307.64" stroke="#111" stroke-width="1.0"/>
<line x1="199.38" y1="322.5" x2="204.38" y2="322.5" stroke="#111" stroke-width="1.0"/>
<line x1="199.38" y1="307.64" x2="204.38" y2="307.64" stroke="#111" stroke-width="1.0"/>
<line x1="206.84" y1="331.66" x2="206.84" y2="314.33" stroke="#111" stroke-width="1.0"/>
<line x1="204.34" y1="331.66" x2="209.34" y2="331.66" stroke="#111" stroke-width="1.0"/>
<line x1="204.34" y1="314.33" x2="209.34" y2="314.33" stroke="#111" stroke-width="1.0"/>
<line x1="216.76" y1="319.28" x2="216.76" y2="289.57" stroke="#111" stroke-width="1.0"/>
<line x1="214.26" y1="319.28" x2="219.26" y2="319.28" stroke="#111" stroke-width="1.0"/>
<line x1="214.26" y1="289.57" x2="219.26" y2="289.57" stroke="#111" stroke-width="1.0"/>
<line x1="226.68" y1="326.21" x2="226.68" y2="303.93" stroke="#111" stroke-width="1.0"/>
<line x1="224.18" y1="326.21" x2="229.18" y2="326.21" stroke="#111" stroke-width="1.0"/>
<line x1="224.18" y1="303.93" x2="229.18" y2="303.93" stroke="#111" stroke-width="1.0"/>
<line x1="112.6" y1="309.37" x2="112.6" y2="287.09" stroke="#111" stroke-width="1.0"/>
<line x1="110.1" y1="309.37" x2="115.1" y2="309.37" stroke="#111" stroke-width="1.0"/>
<line x1="110.1" y1="287.09" x2="115.1" y2="287.09" stroke="#111" stroke-width="1.0"/>
<line x1="191.96" y1="316.31" x2="191.96" y2="298.97" stroke="#111" stroke-width="1.0"/>
<line x1="189.46" y1="316.31" x2="194.46" y2="316.31" stroke="#111" stroke-width="1.0"/>
<line x1="189.46" y1="298.97" x2="194.46" y2="298.97" stroke="#111" stroke-width="1.0"/>
<polygon points="63,264.21 67.1,271.59 58.9,271.59" fill="#fff" stroke="#111" stroke-width="1.0" stroke-linejoin="miter"/>
<polygon points="67.96,236.48 72.06,243.86 63.86,243.86" fill="#fff" stroke="#111" stroke-width="1.0" stroke-linejoin="miter"/>
<polygon points="72.92,232.77 77.02,240.15 68.82,240.15" fill="#fff" stroke="#111" stroke-width="1.0" stroke-linejoin="miter"/>
<polygon points="77.88,217.17 81.98,224.55 73.78,224.55" fill="#fff" stroke="#111" stroke-width="1.0" stroke-linejoin="miter"/>
<polygon points="87.8,232.77 91.9,240.15 83.7,240.15" fill="#fff" stroke="#111" stroke-width="1.0" stroke-linejoin="miter"/>
<polygon points="97.72,241.43 101.82,248.81 93.62,248.81" fill="#fff" stroke="#111" stroke-width="1.0" stroke-linejoin="miter"/>
<polygon points="107.64,235.74 111.74,243.12 103.54,243.12" fill="#fff" stroke="#111" stroke-width="1.0" stroke-linejoin="miter"/>
<polygon points="112.6,227.82 116.7,235.2 108.5,235.2" fill="#fff" stroke="#111" stroke-width="1.0" stroke-linejoin="miter"/>
<polygon points="122.52,229.05 126.62,236.43 118.42,236.43" fill="#fff" stroke="#111" stroke-width="1.0" stroke-linejoin="miter"/>
<polygon points="137.4,244.41 141.5,251.79 133.3,251.79" fill="#fff" stroke="#111" stroke-width="1.0" stroke-linejoin="miter"/>
<polygon points="147.32,237.23 151.42,244.61 143.22,244.61" fill="#fff" stroke="#111" stroke-width="1.0" stroke-linejoin="miter"/>
<polygon points="157.24,239.7 161.34,247.08 153.14,247.08" fill="#fff" stroke="#111" stroke-width="1.0" stroke-linejoin="miter"/>
<polygon points="167.16,278.57 171.26,285.95 163.06,285.95" fill="#fff" stroke="#111" stroke-width="1.0" stroke-linejoin="miter"/>
<polygon points="177.08,287.24 181.18,294.62 172.98,294.62" fill="#fff" stroke="#111" stroke-width="1.0" stroke-linejoin="miter"/>
<polygon points="191.96,303.33 196.06,310.71 187.86,310.71" fill="#fff" stroke="#111" stroke-width="1.0" stroke-linejoin="miter"/>
<polygon points="201.88,310.76 205.98,318.14 197.78,318.14" fill="#fff" stroke="#111" stroke-width="1.0" stroke-linejoin="miter"/>
<polygon points="206.84,318.69 210.94,326.07 202.74,326.07" fill="#fff" stroke="#111" stroke-width="1.0" stroke-linejoin="miter"/>
<polygon points="211.8,323.14 215.9,330.52 207.7,330.52" fill="#fff" stroke="#111" stroke-width="1.0" stroke-linejoin="miter"/>
<polygon points="216.76,300.12 220.86,307.5 212.66,307.5" fill="#fff" stroke="#111" stroke-width="1.0" stroke-linejoin="miter"/>
<polygon points="226.68,310.76 230.78,318.14 222.58,318.14" fill="#fff" stroke="#111" stroke-width="1.0" stroke-linejoin="miter"/>
<circle cx="63" cy="271" r="3.6" fill="#111" stroke="#111" stroke-width="1.0"/>
<circle cx="67.96" cy="245.74" r="3.6" fill="#111" stroke="#111" stroke-width="1.0"/>
<circle cx="72.92" cy="230.88" r="3.6" fill="#111" stroke="#111" stroke-width="1.0"/>
<circle cx="77.88" cy="228.41" r="3.6" fill="#111" stroke="#111" stroke-width="1.0"/>
<circle cx="87.8" cy="225.44" r="3.6" fill="#111" stroke="#111" stroke-width="1.0"/>
<circle cx="97.72" cy="249.95" r="3.6" fill="#111" stroke="#111" stroke-width="1.0"/>
<circle cx="107.64" cy="240.05" r="3.6" fill="#111" stroke="#111" stroke-width="1.0"/>
<circle cx="112.6" cy="228.41" r="3.6" fill="#111" stroke="#111" stroke-width="1.0"/>
<circle cx="122.52" cy="235.34" r="3.6" fill="#111" stroke="#111" stroke-width="1.0"/>
<circle cx="137.4" cy="253.91" r="3.6" fill="#111" stroke="#111" stroke-width="1.0"/>
<circle cx="147.32" cy="253.17" r="3.6" fill="#111" stroke="#111" stroke-width="1.0"/>
<circle cx="157.24" cy="263.07" r="3.6" fill="#111" stroke="#111" stroke-width="1.0"/>
<circle cx="167.16" cy="272.48" r="3.6" fill="#111" stroke="#111" stroke-width="1.0"/>
<circle cx="172.12" cy="306.15" r="3.6" fill="#111" stroke="#111" stroke-width="1.0"/>
<circle cx="177.08" cy="263.81" r="3.6" fill="#111" stroke="#111" stroke-width="1.0"/>
<circle cx="182.04" cy="331.41" r="3.6" fill="#111" stroke="#111" stroke-width="1.0"/>
<circle cx="191.96" cy="299.72" r="3.6" fill="#111" stroke="#111" stroke-width="1.0"/>
<circle cx="201.88" cy="324.97" r="3.6" fill="#111" stroke="#111" stroke-width="1.0"/>
<circle cx="226.68" cy="331.41" r="3.6" fill="#111" stroke="#111" stroke-width="1.0"/>
<rect x="59.4" y="274.33" width="7.2" height="7.2" fill="#111" stroke="#111" stroke-width="1.0"/>
<rect x="64.36" y="248.33" width="7.2" height="7.2" fill="#111" stroke="#111" stroke-width="1.0"/>
<rect x="69.32" y="226.05" width="7.2" height="7.2" fill="#111" stroke="#111" stroke-width="1.0"/>
<rect x="74.28" y="224.81" width="7.2" height="7.2" fill="#111" stroke="#111" stroke-width="1.0"/>
<rect x="79.24" y="232.73" width="7.2" height="7.2" fill="#111" stroke="#111" stroke-width="1.0"/>
<rect x="94.12" y="242.14" width="7.2" height="7.2" fill="#111" stroke="#111" stroke-width="1.0"/>
<rect x="109" y="294.63" width="7.2" height="7.2" fill="#111" stroke="#111" stroke-width="1.0"/>
<rect x="118.92" y="302.8" width="7.2" height="7.2" fill="#111" stroke="#111" stroke-width="1.0"/>
<rect x="133.8" y="327.56" width="7.2" height="7.2" fill="#111" stroke="#111" stroke-width="1.0"/>
</g>
<rect x="189.5" y="200.5" width="69.3" height="44.1" fill="#fff" stroke="#111" stroke-width="1.2"/>
<line x1="197.7" y1="211.5" x2="215.7" y2="211.5" stroke="#111" stroke-width="1.0"/>
<circle cx="207" cy="211.5" r="3.6" fill="#111" stroke="#111" stroke-width="1.0"/>
<text x="0" y="0" transform="translate(219.7 213.7) scale(1 1.06)" font-size="6.9" text-anchor="start" font-weight="normal" font-style="normal" fill="#111" stroke="#111" stroke-width="0.22">B5 CD4+</text>
<line x1="197.7" y1="223.2" x2="215.7" y2="223.2" stroke="#111" stroke-width="1.0"/>
<polygon points="207,218.79 211.2,226.35 202.8,226.35" fill="#fff" stroke="#111" stroke-width="1.0" stroke-linejoin="miter"/>
<text x="0" y="0" transform="translate(219.7 225.4) scale(1 1.06)" font-size="6.9" text-anchor="start" font-weight="normal" font-style="normal" fill="#111" stroke="#111" stroke-width="0.22">WT CD4+</text>
<line x1="197.7" y1="235.4" x2="215.7" y2="235.4" stroke="#111" stroke-width="1.0"/>
<rect x="203.5" y="231.9" width="7" height="7" fill="#111" stroke="#111" stroke-width="1.0"/>
<text x="0" y="0" transform="translate(219.7 237.6) scale(1 1.06)" font-size="6.9" text-anchor="start" font-weight="normal" font-style="normal" fill="#111" stroke="#111" stroke-width="0.22">BALB/c</text>
<text x="0" y="0" transform="translate(282.2 195.4)" font-size="16.5" text-anchor="start" font-weight="bold" font-style="normal" fill="#111" stroke="#111" stroke-width="0.22">D</text>
<text x="0" y="0" transform="translate(373.5 199.6)" font-size="10.1" text-anchor="start" font-weight="bold" font-style="normal" fill="#111" stroke="#111" stroke-width="0.22">DO11.10 &gt;</text>
<text x="0" y="0" transform="translate(430.8 199.6)" font-size="10.1" text-anchor="start" font-weight="bold" font-style="italic" fill="#111" stroke="#111" stroke-width="0.22">nu/nu</text>
<line x1="317.5" y1="207.3" x2="317.5" y2="330.8" stroke="#111" stroke-width="1.2"/>
<line x1="314.3" y1="207.8" x2="317.5" y2="207.8" stroke="#111" stroke-width="1.2"/>
<text x="0" y="0" transform="translate(313 209.6) scale(1 1.06)" font-size="8.2" text-anchor="end" font-weight="normal" font-style="normal" fill="#111" stroke="#111" stroke-width="0.22">2</text>
<line x1="314.3" y1="232.3" x2="317.5" y2="232.3" stroke="#111" stroke-width="1.2"/>
<text x="0" y="0" transform="translate(313 234.1) scale(1 1.06)" font-size="8.2" text-anchor="end" font-weight="normal" font-style="normal" fill="#111" stroke="#111" stroke-width="0.22">1</text>
<line x1="314.3" y1="256.8" x2="317.5" y2="256.8" stroke="#111" stroke-width="1.2"/>
<text x="0" y="0" transform="translate(313 258.6) scale(1 1.06)" font-size="8.2" text-anchor="end" font-weight="normal" font-style="normal" fill="#111" stroke="#111" stroke-width="0.22">0</text>
<line x1="314.3" y1="281.3" x2="317.5" y2="281.3" stroke="#111" stroke-width="1.2"/>
<text x="0" y="0" transform="translate(313 283.1) scale(1 1.06)" font-size="8.2" text-anchor="end" font-weight="normal" font-style="normal" fill="#111" stroke="#111" stroke-width="0.22">-1</text>
<line x1="314.3" y1="305.8" x2="317.5" y2="305.8" stroke="#111" stroke-width="1.2"/>
<text x="0" y="0" transform="translate(313 307.6) scale(1 1.06)" font-size="8.2" text-anchor="end" font-weight="normal" font-style="normal" fill="#111" stroke="#111" stroke-width="0.22">-2</text>
<line x1="314.3" y1="330.3" x2="317.5" y2="330.3" stroke="#111" stroke-width="1.2"/>
<text x="0" y="0" transform="translate(313 332.1) scale(1 1.06)" font-size="8.2" text-anchor="end" font-weight="normal" font-style="normal" fill="#111" stroke="#111" stroke-width="0.22">-3</text>
<line x1="317" y1="330.3" x2="516" y2="330.3" stroke="#111" stroke-width="1.2"/>
<line x1="317.3" y1="330.3" x2="317.3" y2="333.5" stroke="#111" stroke-width="1.2"/>
<text x="0" y="0" transform="translate(317.3 341.7) scale(1 1.06)" font-size="8.2" text-anchor="middle" font-weight="normal" font-style="normal" fill="#111" stroke="#111" stroke-width="0.22">0</text>
<line x1="366.9" y1="330.3" x2="366.9" y2="333.5" stroke="#111" stroke-width="1.2"/>
<text x="0" y="0" transform="translate(366.9 341.7) scale(1 1.06)" font-size="8.2" text-anchor="middle" font-weight="normal" font-style="normal" fill="#111" stroke="#111" stroke-width="0.22">10</text>
<line x1="416.5" y1="330.3" x2="416.5" y2="333.5" stroke="#111" stroke-width="1.2"/>
<text x="0" y="0" transform="translate(416.5 341.7) scale(1 1.06)" font-size="8.2" text-anchor="middle" font-weight="normal" font-style="normal" fill="#111" stroke="#111" stroke-width="0.22">20</text>
<line x1="466.1" y1="330.3" x2="466.1" y2="333.5" stroke="#111" stroke-width="1.2"/>
<text x="0" y="0" transform="translate(466.1 341.7) scale(1 1.06)" font-size="8.2" text-anchor="middle" font-weight="normal" font-style="normal" fill="#111" stroke="#111" stroke-width="0.22">30</text>
<line x1="515.7" y1="330.3" x2="515.7" y2="333.5" stroke="#111" stroke-width="1.2"/>
<text x="0" y="0" transform="translate(515.7 341.7) scale(1 1.06)" font-size="8.2" text-anchor="middle" font-weight="normal" font-style="normal" fill="#111" stroke="#111" stroke-width="0.22">40</text>
<line x1="327.22" y1="330.3" x2="327.22" y2="331.9" stroke="#111" stroke-width="1.0"/>
<line x1="337.14" y1="330.3" x2="337.14" y2="331.9" stroke="#111" stroke-width="1.0"/>
<line x1="347.06" y1="330.3" x2="347.06" y2="331.9" stroke="#111" stroke-width="1.0"/>
<line x1="356.98" y1="330.3" x2="356.98" y2="331.9" stroke="#111" stroke-width="1.0"/>
<line x1="376.82" y1="330.3" x2="376.82" y2="331.9" stroke="#111" stroke-width="1.0"/>
<line x1="386.74" y1="330.3" x2="386.74" y2="331.9" stroke="#111" stroke-width="1.0"/>
<line x1="396.66" y1="330.3" x2="396.66" y2="331.9" stroke="#111" stroke-width="1.0"/>
<line x1="406.58" y1="330.3" x2="406.58" y2="331.9" stroke="#111" stroke-width="1.0"/>
<line x1="426.42" y1="330.3" x2="426.42" y2="331.9" stroke="#111" stroke-width="1.0"/>
<line x1="436.34" y1="330.3" x2="436.34" y2="331.9" stroke="#111" stroke-width="1.0"/>
<line x1="446.26" y1="330.3" x2="446.26" y2="331.9" stroke="#111" stroke-width="1.0"/>
<line x1="456.18" y1="330.3" x2="456.18" y2="331.9" stroke="#111" stroke-width="1.0"/>
<line x1="476.02" y1="330.3" x2="476.02" y2="331.9" stroke="#111" stroke-width="1.0"/>
<line x1="485.94" y1="330.3" x2="485.94" y2="331.9" stroke="#111" stroke-width="1.0"/>
<line x1="495.86" y1="330.3" x2="495.86" y2="331.9" stroke="#111" stroke-width="1.0"/>
<line x1="505.78" y1="330.3" x2="505.78" y2="331.9" stroke="#111" stroke-width="1.0"/>
<text x="0" y="0" transform="translate(414.7 354.8) scale(1 1.06)" font-size="8.5" text-anchor="middle" font-weight="normal" font-style="normal" fill="#111" stroke="#111" stroke-width="0.22">day after infection</text>
<text x="0" y="0" transform="translate(297.5 270.9) rotate(-90) scale(1 1.06)" font-size="8.7" text-anchor="middle" font-weight="normal" font-style="normal" fill="#111" stroke="#111" stroke-width="0.22">log parasitemia</text>
<g clip-path="url(#clipD)">
<polyline points="342.1,275.67 347.06,253.86 352.02,228.14 356.98,226.18 361.94,235.49 376.82,241.61 391.7,297.23 401.62,312.42 416.5,329.56" fill="none" stroke="#111" stroke-width="1.0" stroke-linejoin="miter"/>
<polyline points="342.1,247.49 366.9,224.95 376.82,251.9 386.74,242.1 401.62,218.83 416.5,233.04 426.42,227.4 436.34,220.3 456.18,223.97 490.9,224.95" fill="none" stroke="#111" stroke-width="1.0" stroke-linejoin="miter"/>
<polyline points="327.22,329.56 342.1,319.76 352.02,268.31 366.9,224.95 376.82,224.95 386.74,224.95 391.7,242.1 411.54,220.05 421.46,218.34 431.38,226.18" fill="none" stroke="#111" stroke-width="1.0" stroke-linejoin="miter"/>
<line x1="342.1" y1="284.24" x2="342.1" y2="267.09" stroke="#111" stroke-width="1.0"/>
<line x1="339.6" y1="284.24" x2="344.6" y2="284.24" stroke="#111" stroke-width="1.0"/>
<line x1="339.6" y1="267.09" x2="344.6" y2="267.09" stroke="#111" stroke-width="1.0"/>
<line x1="342.1" y1="327.12" x2="342.1" y2="312.42" stroke="#111" stroke-width="1.0"/>
<line x1="339.6" y1="327.12" x2="344.6" y2="327.12" stroke="#111" stroke-width="1.0"/>
<line x1="339.6" y1="312.42" x2="344.6" y2="312.42" stroke="#111" stroke-width="1.0"/>
<line x1="352.02" y1="285.47" x2="352.02" y2="251.17" stroke="#111" stroke-width="1.0"/>
<line x1="349.52" y1="285.47" x2="354.52" y2="285.47" stroke="#111" stroke-width="1.0"/>
<line x1="349.52" y1="251.17" x2="354.52" y2="251.17" stroke="#111" stroke-width="1.0"/>
<line x1="391.7" y1="308.25" x2="391.7" y2="286.2" stroke="#111" stroke-width="1.0"/>
<line x1="389.2" y1="308.25" x2="394.2" y2="308.25" stroke="#111" stroke-width="1.0"/>
<line x1="389.2" y1="286.2" x2="394.2" y2="286.2" stroke="#111" stroke-width="1.0"/>
<line x1="401.62" y1="319.76" x2="401.62" y2="305.06" stroke="#111" stroke-width="1.0"/>
<line x1="399.12" y1="319.76" x2="404.12" y2="319.76" stroke="#111" stroke-width="1.0"/>
<line x1="399.12" y1="305.06" x2="404.12" y2="305.06" stroke="#111" stroke-width="1.0"/>
<line x1="376.82" y1="229.85" x2="376.82" y2="220.05" stroke="#111" stroke-width="1.0"/>
<line x1="374.32" y1="229.85" x2="379.32" y2="229.85" stroke="#111" stroke-width="1.0"/>
<line x1="374.32" y1="220.05" x2="379.32" y2="220.05" stroke="#111" stroke-width="1.0"/>
<line x1="386.74" y1="229.85" x2="386.74" y2="220.05" stroke="#111" stroke-width="1.0"/>
<line x1="384.24" y1="229.85" x2="389.24" y2="229.85" stroke="#111" stroke-width="1.0"/>
<line x1="384.24" y1="220.05" x2="389.24" y2="220.05" stroke="#111" stroke-width="1.0"/>
<line x1="361.94" y1="240.39" x2="361.94" y2="230.59" stroke="#111" stroke-width="1.0"/>
<line x1="359.44" y1="240.39" x2="364.44" y2="240.39" stroke="#111" stroke-width="1.0"/>
<line x1="359.44" y1="230.59" x2="364.44" y2="230.59" stroke="#111" stroke-width="1.0"/>
<line x1="366.9" y1="231.08" x2="366.9" y2="218.83" stroke="#111" stroke-width="1.0"/>
<line x1="364.4" y1="231.08" x2="369.4" y2="231.08" stroke="#111" stroke-width="1.0"/>
<line x1="364.4" y1="218.83" x2="369.4" y2="218.83" stroke="#111" stroke-width="1.0"/>
<line x1="391.7" y1="249.45" x2="391.7" y2="234.75" stroke="#111" stroke-width="1.0"/>
<line x1="389.2" y1="249.45" x2="394.2" y2="249.45" stroke="#111" stroke-width="1.0"/>
<line x1="389.2" y1="234.75" x2="394.2" y2="234.75" stroke="#111" stroke-width="1.0"/>
<line x1="456.18" y1="228.87" x2="456.18" y2="219.07" stroke="#111" stroke-width="1.0"/>
<line x1="453.68" y1="228.87" x2="458.68" y2="228.87" stroke="#111" stroke-width="1.0"/>
<line x1="453.68" y1="219.07" x2="458.68" y2="219.07" stroke="#111" stroke-width="1.0"/>
<line x1="436.34" y1="223.97" x2="436.34" y2="216.62" stroke="#111" stroke-width="1.0"/>
<line x1="433.84" y1="223.97" x2="438.84" y2="223.97" stroke="#111" stroke-width="1.0"/>
<line x1="433.84" y1="216.62" x2="438.84" y2="216.62" stroke="#111" stroke-width="1.0"/>
<line x1="342.1" y1="253.62" x2="342.1" y2="241.37" stroke="#111" stroke-width="1.0"/>
<line x1="339.6" y1="253.62" x2="344.6" y2="253.62" stroke="#111" stroke-width="1.0"/>
<line x1="339.6" y1="241.37" x2="344.6" y2="241.37" stroke="#111" stroke-width="1.0"/>
<line x1="411.54" y1="225.69" x2="411.54" y2="214.91" stroke="#111" stroke-width="1.0"/>
<line x1="409.04" y1="225.69" x2="414.04" y2="225.69" stroke="#111" stroke-width="1.0"/>
<line x1="409.04" y1="214.91" x2="414.04" y2="214.91" stroke="#111" stroke-width="1.0"/>
<line x1="426.42" y1="232.79" x2="426.42" y2="222.01" stroke="#111" stroke-width="1.0"/>
<line x1="423.92" y1="232.79" x2="428.92" y2="232.79" stroke="#111" stroke-width="1.0"/>
<line x1="423.92" y1="222.01" x2="428.92" y2="222.01" stroke="#111" stroke-width="1.0"/>
<line x1="391.7" y1="248.96" x2="391.7" y2="234.26" stroke="#111" stroke-width="1.0"/>
<line x1="389.2" y1="248.96" x2="394.2" y2="248.96" stroke="#111" stroke-width="1.0"/>
<line x1="389.2" y1="234.26" x2="394.2" y2="234.26" stroke="#111" stroke-width="1.0"/>
<line x1="371.5" y1="221.4" x2="391" y2="221.4" stroke="#111" stroke-width="1.0"/>
<line x1="372" y1="229.9" x2="391" y2="229.9" stroke="#111" stroke-width="1.0"/>
<polygon points="327.22,325.37 331.42,329.56 327.22,333.76 323.02,329.56" fill="#fff" stroke="#111" stroke-width="1.0"/>
<polygon points="342.1,315.56 346.3,319.76 342.1,323.96 337.9,319.76" fill="#fff" stroke="#111" stroke-width="1.0"/>
<polygon points="352.02,264.12 356.22,268.31 352.02,272.51 347.82,268.31" fill="#fff" stroke="#111" stroke-width="1.0"/>
<polygon points="366.9,220.75 371.1,224.95 366.9,229.15 362.7,224.95" fill="#fff" stroke="#111" stroke-width="1.0"/>
<polygon points="376.82,220.75 381.02,224.95 376.82,229.15 372.62,224.95" fill="#fff" stroke="#111" stroke-width="1.0"/>
<polygon points="386.74,220.75 390.94,224.95 386.74,229.15 382.54,224.95" fill="#fff" stroke="#111" stroke-width="1.0"/>
<polygon points="391.7,237.9 395.9,242.1 391.7,246.3 387.5,242.1" fill="#fff" stroke="#111" stroke-width="1.0"/>
<polygon points="411.54,215.85 415.74,220.05 411.54,224.25 407.34,220.05" fill="#fff" stroke="#111" stroke-width="1.0"/>
<polygon points="421.46,214.14 425.66,218.34 421.46,222.53 417.26,218.34" fill="#fff" stroke="#111" stroke-width="1.0"/>
<polygon points="431.38,221.98 435.58,226.18 431.38,230.38 427.18,226.18" fill="#fff" stroke="#111" stroke-width="1.0"/>
<polygon points="342.1,243.49 346.1,247.49 342.1,251.49 338.1,247.49" fill="none" stroke="#111" stroke-width="1.5"/>
<polygon points="366.9,220.95 370.9,224.95 366.9,228.95 362.9,224.95" fill="none" stroke="#111" stroke-width="1.5"/>
<polygon points="376.82,247.9 380.82,251.9 376.82,255.9 372.82,251.9" fill="none" stroke="#111" stroke-width="1.5"/>
<polygon points="386.74,238.1 390.74,242.1 386.74,246.1 382.74,242.1" fill="none" stroke="#111" stroke-width="1.5"/>
<polygon points="401.62,214.83 405.62,218.83 401.62,222.83 397.62,218.83" fill="none" stroke="#111" stroke-width="1.5"/>
<polygon points="416.5,229.04 420.5,233.04 416.5,237.04 412.5,233.04" fill="none" stroke="#111" stroke-width="1.5"/>
<polygon points="426.42,223.4 430.42,227.4 426.42,231.4 422.42,227.4" fill="none" stroke="#111" stroke-width="1.5"/>
<polygon points="436.34,216.3 440.34,220.3 436.34,224.3 432.34,220.3" fill="none" stroke="#111" stroke-width="1.5"/>
<polygon points="456.18,219.97 460.18,223.97 456.18,227.97 452.18,223.97" fill="none" stroke="#111" stroke-width="1.5"/>
<polygon points="490.9,220.95 494.9,224.95 490.9,228.95 486.9,224.95" fill="none" stroke="#111" stroke-width="1.5"/>
<rect x="338.35" y="271.92" width="7.5" height="7.5" fill="#111" stroke="#111" stroke-width="1.0"/>
<rect x="343.31" y="250.11" width="7.5" height="7.5" fill="#111" stroke="#111" stroke-width="1.0"/>
<rect x="348.27" y="224.39" width="7.5" height="7.5" fill="#111" stroke="#111" stroke-width="1.0"/>
<rect x="353.23" y="222.43" width="7.5" height="7.5" fill="#111" stroke="#111" stroke-width="1.0"/>
<rect x="358.19" y="231.74" width="7.5" height="7.5" fill="#111" stroke="#111" stroke-width="1.0"/>
<rect x="373.07" y="237.86" width="7.5" height="7.5" fill="#111" stroke="#111" stroke-width="1.0"/>
<rect x="387.95" y="293.48" width="7.5" height="7.5" fill="#111" stroke="#111" stroke-width="1.0"/>
<rect x="397.87" y="308.67" width="7.5" height="7.5" fill="#111" stroke="#111" stroke-width="1.0"/>
<rect x="412.75" y="325.81" width="7.5" height="7.5" fill="#111" stroke="#111" stroke-width="1.0"/>
</g>
<rect x="434.3" y="262.3" width="81.7" height="42.9" fill="#fff" stroke="#111" stroke-width="1.2"/>
<line x1="437.8" y1="271.8" x2="456.8" y2="271.8" stroke="#111" stroke-width="1.0"/>
<polygon points="447.8,267.7 451.9,271.8 447.8,275.9 443.7,271.8" fill="#fff" stroke="#111" stroke-width="1.6"/>
<text x="0" y="0" transform="translate(459.8 274) scale(1 1.06)" font-size="6.8" text-anchor="start" font-weight="normal" font-style="normal" fill="#111" stroke="#111" stroke-width="0.22">nu/nu</text>
<line x1="437.8" y1="283.6" x2="456.8" y2="283.6" stroke="#111" stroke-width="1.0"/>
<polygon points="447.8,279.3 452.1,283.6 447.8,287.9 443.5,283.6" fill="#fff" stroke="#111" stroke-width="1.0"/>
<text x="0" y="0" transform="translate(459.8 285.8) scale(1 1.06)" font-size="6.8" text-anchor="start" font-weight="normal" font-style="normal" fill="#111" stroke="#111" stroke-width="0.22">DO11.10 CD4+</text>
<line x1="437.8" y1="297" x2="456.8" y2="297" stroke="#111" stroke-width="1.0"/>
<rect x="444.2" y="293.4" width="7.2" height="7.2" fill="#111" stroke="#111" stroke-width="1.0"/>
<text x="0" y="0" transform="translate(459.8 299.2) scale(1 1.06)" font-size="6.8" text-anchor="start" font-weight="normal" font-style="normal" fill="#111" stroke="#111" stroke-width="0.22">BALB/c</text>
<text x="0" y="0" transform="translate(-0.5 400.5)" font-size="16.5" text-anchor="start" font-weight="bold" font-style="normal" fill="#111" stroke="#111" stroke-width="0.22">E</text>
<text x="0" y="0" transform="translate(44.2 403) scale(1 1.06)" font-size="11.6" text-anchor="start" font-weight="normal" font-style="normal" fill="#111" stroke="#111" stroke-width="0.22">B5</text>
<text x="0" y="0" transform="translate(65 403) scale(1 1.06)" font-size="11.6" text-anchor="start" font-weight="normal" font-style="normal" fill="#111" stroke="#111" stroke-width="0.22">+/-</text>
<text x="0" y="0" transform="translate(82.3 403) scale(1 1.06)" font-size="11.6" text-anchor="start" font-weight="normal" font-style="normal" fill="#111" stroke="#111" stroke-width="0.22">imm B</text>
<text x="0" y="0" transform="translate(122.7 403) scale(1 1.06)" font-size="11.6" text-anchor="start" font-weight="normal" font-style="normal" fill="#111" stroke="#111" stroke-width="0.22">&gt;</text>
<text x="0" y="0" transform="translate(133.8 403) scale(1 1.06)" font-size="11.6" text-anchor="start" font-weight="normal" font-style="normal" fill="#111" stroke="#111" stroke-width="0.22">RAG</text>
<text x="0" y="0" transform="translate(163 403) scale(1 1.06)" font-size="11.6" text-anchor="start" font-weight="bold" font-style="normal" fill="#111" stroke="#111" stroke-width="0.22">no Antigen</text>
<line x1="37.5" y1="423.1" x2="37.5" y2="558.7" stroke="#111" stroke-width="1.2"/>
<line x1="33.7" y1="423.6" x2="37.5" y2="423.6" stroke="#111" stroke-width="1.2"/>
<text x="0" y="0" transform="translate(32.4 425.54) scale(1 1.06)" font-size="8.8" text-anchor="end" font-weight="normal" font-style="normal" fill="#111" stroke="#111" stroke-width="0.22">100</text>
<line x1="33.7" y1="457.25" x2="37.5" y2="457.25" stroke="#111" stroke-width="1.2"/>
<text x="0" y="0" transform="translate(32.4 459.19) scale(1 1.06)" font-size="8.8" text-anchor="end" font-weight="normal" font-style="normal" fill="#111" stroke="#111" stroke-width="0.22">10</text>
<line x1="33.7" y1="490.9" x2="37.5" y2="490.9" stroke="#111" stroke-width="1.2"/>
<text x="0" y="0" transform="translate(32.4 492.84) scale(1 1.06)" font-size="8.8" text-anchor="end" font-weight="normal" font-style="normal" fill="#111" stroke="#111" stroke-width="0.22">1</text>
<line x1="33.7" y1="524.55" x2="37.5" y2="524.55" stroke="#111" stroke-width="1.2"/>
<text x="0" y="0" transform="translate(32.4 526.49) scale(1 1.06)" font-size="8.8" text-anchor="end" font-weight="normal" font-style="normal" fill="#111" stroke="#111" stroke-width="0.22">0.1</text>
<line x1="33.7" y1="558.2" x2="37.5" y2="558.2" stroke="#111" stroke-width="1.2"/>
<text x="0" y="0" transform="translate(32.4 560.14) scale(1 1.06)" font-size="8.8" text-anchor="end" font-weight="normal" font-style="normal" fill="#111" stroke="#111" stroke-width="0.22">0.01</text>
<line x1="37" y1="558.3" x2="240" y2="558.3" stroke="#111" stroke-width="1.2"/>
<line x1="37.5" y1="558.3" x2="37.5" y2="561.5" stroke="#111" stroke-width="1.2"/>
<text x="0" y="0" transform="translate(37.5 571.4) scale(1 1.06)" font-size="8.8" text-anchor="middle" font-weight="normal" font-style="normal" fill="#111" stroke="#111" stroke-width="0.22">0</text>
<line x1="87.1" y1="558.3" x2="87.1" y2="561.5" stroke="#111" stroke-width="1.2"/>
<text x="0" y="0" transform="translate(87.1 571.4) scale(1 1.06)" font-size="8.8" text-anchor="middle" font-weight="normal" font-style="normal" fill="#111" stroke="#111" stroke-width="0.22">10</text>
<line x1="136.7" y1="558.3" x2="136.7" y2="561.5" stroke="#111" stroke-width="1.2"/>
<text x="0" y="0" transform="translate(136.7 571.4) scale(1 1.06)" font-size="8.8" text-anchor="middle" font-weight="normal" font-style="normal" fill="#111" stroke="#111" stroke-width="0.22">20</text>
<line x1="186.3" y1="558.3" x2="186.3" y2="561.5" stroke="#111" stroke-width="1.2"/>
<text x="0" y="0" transform="translate(186.3 571.4) scale(1 1.06)" font-size="8.8" text-anchor="middle" font-weight="normal" font-style="normal" fill="#111" stroke="#111" stroke-width="0.22">30</text>
<line x1="235.9" y1="558.3" x2="235.9" y2="561.5" stroke="#111" stroke-width="1.2"/>
<text x="0" y="0" transform="translate(235.9 571.4) scale(1 1.06)" font-size="8.8" text-anchor="middle" font-weight="normal" font-style="normal" fill="#111" stroke="#111" stroke-width="0.22">40</text>
<line x1="47.42" y1="558.3" x2="47.42" y2="559.9" stroke="#111" stroke-width="1.0"/>
<line x1="57.34" y1="558.3" x2="57.34" y2="559.9" stroke="#111" stroke-width="1.0"/>
<line x1="67.26" y1="558.3" x2="67.26" y2="559.9" stroke="#111" stroke-width="1.0"/>
<line x1="77.18" y1="558.3" x2="77.18" y2="559.9" stroke="#111" stroke-width="1.0"/>
<line x1="97.02" y1="558.3" x2="97.02" y2="559.9" stroke="#111" stroke-width="1.0"/>
<line x1="106.94" y1="558.3" x2="106.94" y2="559.9" stroke="#111" stroke-width="1.0"/>
<line x1="116.86" y1="558.3" x2="116.86" y2="559.9" stroke="#111" stroke-width="1.0"/>
<line x1="126.78" y1="558.3" x2="126.78" y2="559.9" stroke="#111" stroke-width="1.0"/>
<line x1="146.62" y1="558.3" x2="146.62" y2="559.9" stroke="#111" stroke-width="1.0"/>
<line x1="156.54" y1="558.3" x2="156.54" y2="559.9" stroke="#111" stroke-width="1.0"/>
<line x1="166.46" y1="558.3" x2="166.46" y2="559.9" stroke="#111" stroke-width="1.0"/>
<line x1="176.38" y1="558.3" x2="176.38" y2="559.9" stroke="#111" stroke-width="1.0"/>
<line x1="196.22" y1="558.3" x2="196.22" y2="559.9" stroke="#111" stroke-width="1.0"/>
<line x1="206.14" y1="558.3" x2="206.14" y2="559.9" stroke="#111" stroke-width="1.0"/>
<line x1="216.06" y1="558.3" x2="216.06" y2="559.9" stroke="#111" stroke-width="1.0"/>
<line x1="225.98" y1="558.3" x2="225.98" y2="559.9" stroke="#111" stroke-width="1.0"/>
<text x="0" y="0" transform="translate(138 585.1) scale(1 1.06)" font-size="8.9" text-anchor="middle" font-weight="normal" font-style="normal" fill="#111" stroke="#111" stroke-width="0.22">day after infection</text>
<text x="0" y="0" transform="translate(9 493.3) rotate(-90)" font-size="10.6" text-anchor="middle" font-weight="normal" font-style="normal" fill="#111" stroke="#111" stroke-width="0.22" textLength="32.4" lengthAdjust="spacingAndGlyphs">% iRBC</text>
<line x1="93.85" y1="414.8" x2="93.85" y2="426.7" stroke="#111" stroke-width="1.4"/>
<line x1="91.2" y1="418.3" x2="96.3" y2="418.3" stroke="#111" stroke-width="1.3"/>
<g clip-path="url(#clipE)">
<polyline points="47.42,544.81 57.34,475.34 67.26,437.74 77.18,433.16 87.1,433.16" fill="none" stroke="#111" stroke-width="1.1" stroke-linejoin="miter"/>
<polyline points="77.18,435.27 87.1,439.8 97.02,455.86 106.94,434.33 116.86,438.13 126.78,443.86 136.7,436.28 146.62,442.73 156.54,451.82 176.38,444.76 196.22,449.5 216.06,454.96 235.9,463.77" fill="none" stroke="#111" stroke-width="1.1" stroke-linejoin="miter"/>
<polyline points="47.42,520.72 57.34,484.03 67.26,474.37 77.18,437.74 87.1,450.38 97.02,520.72 106.94,542.14 116.86,556.81" fill="none" stroke="#111" stroke-width="1.1" stroke-linejoin="miter"/>
<polyline points="47.42,526.93 57.34,483.58 67.26,474.84 77.18,438.13 87.1,443.86 97.02,495.91 106.94,532.02 116.86,526.93 126.78,543.15 136.7,557.49" fill="none" stroke="#111" stroke-width="1.1" stroke-linejoin="miter"/>
<line x1="106.94" y1="532.02" x2="106.94" y2="514.42" stroke="#111" stroke-width="1.0"/>
<line x1="103.94" y1="514.42" x2="109.94" y2="514.42" stroke="#111" stroke-width="1.0"/>
<line x1="116.86" y1="526.93" x2="116.86" y2="516.8" stroke="#111" stroke-width="1.0"/>
<line x1="113.86" y1="516.8" x2="119.86" y2="516.8" stroke="#111" stroke-width="1.0"/>
<line x1="126.78" y1="543.15" x2="126.78" y2="530.85" stroke="#111" stroke-width="1.0"/>
<line x1="123.78" y1="530.85" x2="129.78" y2="530.85" stroke="#111" stroke-width="1.0"/>
<line x1="97.02" y1="507.1" x2="97.02" y2="477.51" stroke="#111" stroke-width="1.0"/>
<line x1="94.02" y1="507.1" x2="100.02" y2="507.1" stroke="#111" stroke-width="1.0"/>
<line x1="94.02" y1="477.51" x2="100.02" y2="477.51" stroke="#111" stroke-width="1.0"/>
<rect x="43.72" y="541.11" width="7.4" height="7.4" fill="none" stroke="#111" stroke-width="1.2"/>
<rect x="53.64" y="471.64" width="7.4" height="7.4" fill="none" stroke="#111" stroke-width="1.2"/>
<rect x="63.56" y="434.04" width="7.4" height="7.4" fill="none" stroke="#111" stroke-width="1.2"/>
<rect x="73.48" y="429.46" width="7.4" height="7.4" fill="none" stroke="#111" stroke-width="1.2"/>
<rect x="83.4" y="429.46" width="7.4" height="7.4" fill="none" stroke="#111" stroke-width="1.2"/>
<circle cx="77.18" cy="435.27" r="3.7" fill="none" stroke="#111" stroke-width="1.3"/>
<circle cx="87.1" cy="439.8" r="3.7" fill="none" stroke="#111" stroke-width="1.3"/>
<circle cx="97.02" cy="455.86" r="3.7" fill="none" stroke="#111" stroke-width="1.3"/>
<circle cx="106.94" cy="434.33" r="3.7" fill="none" stroke="#111" stroke-width="1.3"/>
<circle cx="116.86" cy="438.13" r="3.7" fill="none" stroke="#111" stroke-width="1.3"/>
<circle cx="126.78" cy="443.86" r="3.7" fill="none" stroke="#111" stroke-width="1.3"/>
<circle cx="136.7" cy="436.28" r="3.7" fill="none" stroke="#111" stroke-width="1.3"/>
<circle cx="146.62" cy="442.73" r="3.7" fill="none" stroke="#111" stroke-width="1.3"/>
<circle cx="156.54" cy="451.82" r="3.7" fill="none" stroke="#111" stroke-width="1.3"/>
<circle cx="176.38" cy="444.76" r="3.7" fill="none" stroke="#111" stroke-width="1.3"/>
<circle cx="196.22" cy="449.5" r="3.7" fill="none" stroke="#111" stroke-width="1.3"/>
<circle cx="216.06" cy="454.96" r="3.7" fill="none" stroke="#111" stroke-width="1.3"/>
<circle cx="235.9" cy="463.77" r="3.7" fill="none" stroke="#111" stroke-width="1.3"/>
<circle cx="47.42" cy="520.72" r="3.8" fill="#111" stroke="#111" stroke-width="1.0"/>
<circle cx="57.34" cy="484.03" r="3.8" fill="#111" stroke="#111" stroke-width="1.0"/>
<circle cx="67.26" cy="474.37" r="3.8" fill="#111" stroke="#111" stroke-width="1.0"/>
<circle cx="77.18" cy="437.74" r="3.8" fill="#111" stroke="#111" stroke-width="1.0"/>
<circle cx="87.1" cy="450.38" r="3.8" fill="#111" stroke="#111" stroke-width="1.0"/>
<circle cx="97.02" cy="520.72" r="3.8" fill="#111" stroke="#111" stroke-width="1.0"/>
<circle cx="106.94" cy="542.14" r="3.8" fill="#111" stroke="#111" stroke-width="1.0"/>
<circle cx="116.86" cy="556.81" r="3.8" fill="#111" stroke="#111" stroke-width="1.0"/>
<polygon points="47.42,522.41 51.72,530.15 43.12,530.15" fill="#fff" stroke="#111" stroke-width="1.2" stroke-linejoin="miter"/>
<polygon points="57.34,479.07 61.64,486.81 53.04,486.81" fill="#fff" stroke="#111" stroke-width="1.2" stroke-linejoin="miter"/>
<polygon points="67.26,470.33 71.56,478.07 62.96,478.07" fill="#fff" stroke="#111" stroke-width="1.2" stroke-linejoin="miter"/>
<polygon points="77.18,433.62 81.48,441.36 72.88,441.36" fill="#fff" stroke="#111" stroke-width="1.2" stroke-linejoin="miter"/>
<polygon points="87.1,439.34 91.4,447.08 82.8,447.08" fill="#fff" stroke="#111" stroke-width="1.2" stroke-linejoin="miter"/>
<polygon points="97.02,491.39 101.32,499.13 92.72,499.13" fill="#fff" stroke="#111" stroke-width="1.2" stroke-linejoin="miter"/>
<polygon points="106.94,527.5 111.24,535.24 102.64,535.24" fill="#fff" stroke="#111" stroke-width="1.2" stroke-linejoin="miter"/>
<polygon points="116.86,522.41 121.16,530.15 112.56,530.15" fill="#fff" stroke="#111" stroke-width="1.2" stroke-linejoin="miter"/>
<polygon points="126.78,538.64 131.08,546.38 122.48,546.38" fill="#fff" stroke="#111" stroke-width="1.2" stroke-linejoin="miter"/>
<polygon points="136.7,552.97 141,560.71 132.4,560.71" fill="#fff" stroke="#111" stroke-width="1.2" stroke-linejoin="miter"/>
</g>
<line x1="150.3" y1="490.5" x2="150.3" y2="549.7" stroke="#111" stroke-width="1.4"/>
<line x1="150.3" y1="549.7" x2="239.2" y2="549.7" stroke="#111" stroke-width="1.4"/>
<line x1="148.3" y1="543.12" x2="150.3" y2="543.12" stroke="#111" stroke-width="0.8"/>
<text x="0" y="0" transform="translate(147.8 544.72) scale(1 1.06)" font-size="4.5" text-anchor="end" font-weight="normal" font-style="normal" fill="#111" stroke="#111" stroke-width="0">5</text>
<line x1="148.3" y1="529.96" x2="150.3" y2="529.96" stroke="#111" stroke-width="0.8"/>
<text x="0" y="0" transform="translate(147.8 531.56) scale(1 1.06)" font-size="4.5" text-anchor="end" font-weight="normal" font-style="normal" fill="#111" stroke="#111" stroke-width="0">15</text>
<line x1="148.3" y1="516.8" x2="150.3" y2="516.8" stroke="#111" stroke-width="0.8"/>
<text x="0" y="0" transform="translate(147.8 518.4) scale(1 1.06)" font-size="4.5" text-anchor="end" font-weight="normal" font-style="normal" fill="#111" stroke="#111" stroke-width="0">25</text>
<line x1="148.3" y1="503.64" x2="150.3" y2="503.64" stroke="#111" stroke-width="0.8"/>
<text x="0" y="0" transform="translate(147.8 505.24) scale(1 1.06)" font-size="4.5" text-anchor="end" font-weight="normal" font-style="normal" fill="#111" stroke="#111" stroke-width="0">35</text>
<line x1="148.3" y1="490.48" x2="150.3" y2="490.48" stroke="#111" stroke-width="0.8"/>
<text x="0" y="0" transform="translate(147.8 492.08) scale(1 1.06)" font-size="4.5" text-anchor="end" font-weight="normal" font-style="normal" fill="#111" stroke="#111" stroke-width="0">45</text>
<line x1="150.3" y1="549.7" x2="150.3" y2="551.2" stroke="#111" stroke-width="0.8"/>
<text x="0" y="0" transform="translate(150.3 555.9) scale(1 1.06)" font-size="4.5" text-anchor="middle" font-weight="normal" font-style="normal" fill="#111" stroke="#111" stroke-width="0">0</text>
<line x1="163" y1="549.7" x2="163" y2="551.2" stroke="#111" stroke-width="0.8"/>
<text x="0" y="0" transform="translate(163 555.9) scale(1 1.06)" font-size="4.5" text-anchor="middle" font-weight="normal" font-style="normal" fill="#111" stroke="#111" stroke-width="0">2</text>
<line x1="175.7" y1="549.7" x2="175.7" y2="551.2" stroke="#111" stroke-width="0.8"/>
<text x="0" y="0" transform="translate(175.7 555.9) scale(1 1.06)" font-size="4.5" text-anchor="middle" font-weight="normal" font-style="normal" fill="#111" stroke="#111" stroke-width="0">4</text>
<line x1="188.4" y1="549.7" x2="188.4" y2="551.2" stroke="#111" stroke-width="0.8"/>
<text x="0" y="0" transform="translate(188.4 555.9) scale(1 1.06)" font-size="4.5" text-anchor="middle" font-weight="normal" font-style="normal" fill="#111" stroke="#111" stroke-width="0">6</text>
<line x1="201.1" y1="549.7" x2="201.1" y2="551.2" stroke="#111" stroke-width="0.8"/>
<text x="0" y="0" transform="translate(201.1 555.9) scale(1 1.06)" font-size="4.5" text-anchor="middle" font-weight="normal" font-style="normal" fill="#111" stroke="#111" stroke-width="0">8</text>
<line x1="213.8" y1="549.7" x2="213.8" y2="551.2" stroke="#111" stroke-width="0.8"/>
<text x="0" y="0" transform="translate(213.8 555.9) scale(1 1.06)" font-size="4.5" text-anchor="middle" font-weight="normal" font-style="normal" fill="#111" stroke="#111" stroke-width="0">10</text>
<line x1="226.5" y1="549.7" x2="226.5" y2="551.2" stroke="#111" stroke-width="0.8"/>
<text x="0" y="0" transform="translate(226.5 555.9) scale(1 1.06)" font-size="4.5" text-anchor="middle" font-weight="normal" font-style="normal" fill="#111" stroke="#111" stroke-width="0">12</text>
<line x1="239.2" y1="549.7" x2="239.2" y2="551.2" stroke="#111" stroke-width="0.8"/>
<text x="0" y="0" transform="translate(239.2 555.9) scale(1 1.06)" font-size="4.5" text-anchor="middle" font-weight="normal" font-style="normal" fill="#111" stroke="#111" stroke-width="0">14</text>
<text x="0" y="0" transform="translate(137.5 520.1) rotate(-90) scale(1 1.06)" font-size="5" text-anchor="middle" font-weight="normal" font-style="normal" fill="#111" stroke="#111" stroke-width="0">% iRBC</text>
<polyline points="163,549.04 175.7,547.73 188.4,545.75 201.1,501.01 213.8,519.43 226.5,549.04 239.2,549.7" fill="none" stroke="#111" stroke-width="1.5" stroke-linejoin="miter"/>
<polyline points="163,549.31 175.7,547.07 188.4,545.75 201.1,503.64 213.8,528.64 226.5,549.04 239.2,549.7" fill="none" stroke="#111" stroke-width="1.5" stroke-linejoin="miter"/>
<line x1="201.1" y1="506.27" x2="201.1" y2="497.06" stroke="#111" stroke-width="1.0"/>
<line x1="198.6" y1="506.27" x2="203.6" y2="506.27" stroke="#111" stroke-width="1.0"/>
<line x1="198.6" y1="497.06" x2="203.6" y2="497.06" stroke="#111" stroke-width="1.0"/>
<line x1="213.8" y1="536.54" x2="213.8" y2="515.48" stroke="#111" stroke-width="1.0"/>
<line x1="211.3" y1="536.54" x2="216.3" y2="536.54" stroke="#111" stroke-width="1.0"/>
<line x1="211.3" y1="515.48" x2="216.3" y2="515.48" stroke="#111" stroke-width="1.0"/>
<circle cx="175.7" cy="547.07" r="2.3" fill="#111" stroke="#111" stroke-width="1.0"/>
<circle cx="188.4" cy="545.75" r="2.3" fill="#111" stroke="#111" stroke-width="1.0"/>
<circle cx="201.1" cy="503.64" r="2.3" fill="#111" stroke="#111" stroke-width="1.0"/>
<circle cx="213.8" cy="528.64" r="2.3" fill="#111" stroke="#111" stroke-width="1.0"/>
<polygon points="175.7,544.79 178.5,549.83 172.9,549.83" fill="#fff" stroke="#111" stroke-width="1.1" stroke-linejoin="miter"/>
<polygon points="188.4,542.81 191.2,547.85 185.6,547.85" fill="#fff" stroke="#111" stroke-width="1.1" stroke-linejoin="miter"/>
<polygon points="201.1,498.07 203.9,503.11 198.3,503.11" fill="#fff" stroke="#111" stroke-width="1.1" stroke-linejoin="miter"/>
<polygon points="213.8,516.49 216.6,521.53 211,521.53" fill="#fff" stroke="#111" stroke-width="1.1" stroke-linejoin="miter"/>
<polygon points="163,546.2 164.75,549.35 161.25,549.35" fill="#111" stroke="#111" stroke-width="1.0" stroke-linejoin="miter"/>
<polygon points="226.5,546.2 228.25,549.35 224.75,549.35" fill="#111" stroke="#111" stroke-width="1.0" stroke-linejoin="miter"/>
<polygon points="239.2,546.86 240.95,550.01 237.45,550.01" fill="#111" stroke="#111" stroke-width="1.0" stroke-linejoin="miter"/>
<line x1="65.8" y1="611.2" x2="90.4" y2="611.2" stroke="#111" stroke-width="1.4"/>
<rect x="74.4" y="607.1" width="9.6" height="8.2" fill="none" stroke="#111" stroke-width="1.5"/>
<text x="0" y="0" transform="translate(95.6 614.8) scale(1 1.06)" font-size="12.2" text-anchor="start" font-weight="normal" font-style="normal" fill="#111" stroke="#111" stroke-width="0.22">RAG-/-</text>
<line x1="65.8" y1="625.6" x2="90.4" y2="625.6" stroke="#111" stroke-width="1.4"/>
<ellipse cx="79.2" cy="625.6" rx="3.6" ry="3.4" fill="none" stroke="#111" stroke-width="1.6"/>
<text x="0" y="0" transform="translate(95.6 629.2) scale(1 1.06)" font-size="12.2" text-anchor="start" font-weight="normal" font-style="normal" fill="#111" stroke="#111" stroke-width="0.22">B5 CD4+</text>
<line x1="65.8" y1="641" x2="90.4" y2="641" stroke="#111" stroke-width="1.4"/>
<ellipse cx="79.2" cy="641" rx="4.8" ry="4.4" fill="#111" stroke="#111" stroke-width="1.0"/>
<text x="0" y="0" transform="translate(95.6 644.6) scale(1 1.06)" font-size="12.2" text-anchor="start" font-weight="normal" font-style="normal" fill="#111" stroke="#111" stroke-width="0.22">B5 CD4+&#160;&#160;imm B cells</text>
<line x1="65.8" y1="656.7" x2="90.4" y2="656.7" stroke="#111" stroke-width="1.4"/>
<polygon points="79.2,651.66 84.3,660.06 74.1,660.06" fill="none" stroke="#111" stroke-width="1.3"/>
<text x="0" y="0" transform="translate(95.6 660.3) scale(1 1.06)" font-size="12.2" text-anchor="start" font-weight="normal" font-style="normal" fill="#111" stroke="#111" stroke-width="0.22">WT CD4+ imm B cells</text>
<text x="0" y="0" transform="translate(282.3 400.5)" font-size="16.5" text-anchor="start" font-weight="bold" font-style="normal" fill="#111" stroke="#111" stroke-width="0.22">F</text>
<text x="0" y="0" transform="translate(325.5 403) scale(1 1.06)" font-size="11.6" text-anchor="start" font-weight="normal" font-style="normal" fill="#111" stroke="#111" stroke-width="0.22">B5 +/- imm B</text>
<text x="0" y="0" transform="translate(402.5 403) scale(1 1.06)" font-size="11.6" text-anchor="start" font-weight="normal" font-style="normal" fill="#111" stroke="#111" stroke-width="0.22">&gt;</text>
<text x="0" y="0" transform="translate(412.5 403) scale(1 1.06)" font-size="11.6" text-anchor="start" font-weight="normal" font-style="normal" fill="#111" stroke="#111" stroke-width="0.22">RAG</text>
<text x="0" y="0" transform="translate(441.2 403) scale(1 1.06)" font-size="11.6" text-anchor="start" font-weight="bold" font-style="normal" fill="#111" stroke="#111" stroke-width="0.22">+ Antigen</text>
<line x1="315.2" y1="423.1" x2="315.2" y2="558.7" stroke="#111" stroke-width="1.2"/>
<line x1="311.4" y1="423.6" x2="315.2" y2="423.6" stroke="#111" stroke-width="1.2"/>
<text x="0" y="0" transform="translate(310.1 425.54) scale(1 1.06)" font-size="8.8" text-anchor="end" font-weight="normal" font-style="normal" fill="#111" stroke="#111" stroke-width="0.22">100</text>
<line x1="311.4" y1="457.25" x2="315.2" y2="457.25" stroke="#111" stroke-width="1.2"/>
<text x="0" y="0" transform="translate(310.1 459.19) scale(1 1.06)" font-size="8.8" text-anchor="end" font-weight="normal" font-style="normal" fill="#111" stroke="#111" stroke-width="0.22">10</text>
<line x1="311.4" y1="490.9" x2="315.2" y2="490.9" stroke="#111" stroke-width="1.2"/>
<text x="0" y="0" transform="translate(310.1 492.84) scale(1 1.06)" font-size="8.8" text-anchor="end" font-weight="normal" font-style="normal" fill="#111" stroke="#111" stroke-width="0.22">1</text>
<line x1="311.4" y1="524.55" x2="315.2" y2="524.55" stroke="#111" stroke-width="1.2"/>
<text x="0" y="0" transform="translate(310.1 526.49) scale(1 1.06)" font-size="8.8" text-anchor="end" font-weight="normal" font-style="normal" fill="#111" stroke="#111" stroke-width="0.22">0.1</text>
<line x1="311.4" y1="558.2" x2="315.2" y2="558.2" stroke="#111" stroke-width="1.2"/>
<text x="0" y="0" transform="translate(310.1 560.14) scale(1 1.06)" font-size="8.8" text-anchor="end" font-weight="normal" font-style="normal" fill="#111" stroke="#111" stroke-width="0.22">0.01</text>
<line x1="314.7" y1="558.3" x2="517" y2="558.3" stroke="#111" stroke-width="1.2"/>
<line x1="315.2" y1="558.3" x2="315.2" y2="561.5" stroke="#111" stroke-width="1.2"/>
<text x="0" y="0" transform="translate(315.2 571.4) scale(1 1.06)" font-size="8.8" text-anchor="middle" font-weight="normal" font-style="normal" fill="#111" stroke="#111" stroke-width="0.22">0</text>
<line x1="364.8" y1="558.3" x2="364.8" y2="561.5" stroke="#111" stroke-width="1.2"/>
<text x="0" y="0" transform="translate(364.8 571.4) scale(1 1.06)" font-size="8.8" text-anchor="middle" font-weight="normal" font-style="normal" fill="#111" stroke="#111" stroke-width="0.22">10</text>
<line x1="414.4" y1="558.3" x2="414.4" y2="561.5" stroke="#111" stroke-width="1.2"/>
<text x="0" y="0" transform="translate(414.4 571.4) scale(1 1.06)" font-size="8.8" text-anchor="middle" font-weight="normal" font-style="normal" fill="#111" stroke="#111" stroke-width="0.22">20</text>
<line x1="464" y1="558.3" x2="464" y2="561.5" stroke="#111" stroke-width="1.2"/>
<text x="0" y="0" transform="translate(464 571.4) scale(1 1.06)" font-size="8.8" text-anchor="middle" font-weight="normal" font-style="normal" fill="#111" stroke="#111" stroke-width="0.22">30</text>
<line x1="513.6" y1="558.3" x2="513.6" y2="561.5" stroke="#111" stroke-width="1.2"/>
<text x="0" y="0" transform="translate(513.6 571.4) scale(1 1.06)" font-size="8.8" text-anchor="middle" font-weight="normal" font-style="normal" fill="#111" stroke="#111" stroke-width="0.22">40</text>
<line x1="325.12" y1="558.3" x2="325.12" y2="559.9" stroke="#111" stroke-width="1.0"/>
<line x1="335.04" y1="558.3" x2="335.04" y2="559.9" stroke="#111" stroke-width="1.0"/>
<line x1="344.96" y1="558.3" x2="344.96" y2="559.9" stroke="#111" stroke-width="1.0"/>
<line x1="354.88" y1="558.3" x2="354.88" y2="559.9" stroke="#111" stroke-width="1.0"/>
<line x1="374.72" y1="558.3" x2="374.72" y2="559.9" stroke="#111" stroke-width="1.0"/>
<line x1="384.64" y1="558.3" x2="384.64" y2="559.9" stroke="#111" stroke-width="1.0"/>
<line x1="394.56" y1="558.3" x2="394.56" y2="559.9" stroke="#111" stroke-width="1.0"/>
<line x1="404.48" y1="558.3" x2="404.48" y2="559.9" stroke="#111" stroke-width="1.0"/>
<line x1="424.32" y1="558.3" x2="424.32" y2="559.9" stroke="#111" stroke-width="1.0"/>
<line x1="434.24" y1="558.3" x2="434.24" y2="559.9" stroke="#111" stroke-width="1.0"/>
<line x1="444.16" y1="558.3" x2="444.16" y2="559.9" stroke="#111" stroke-width="1.0"/>
<line x1="454.08" y1="558.3" x2="454.08" y2="559.9" stroke="#111" stroke-width="1.0"/>
<line x1="473.92" y1="558.3" x2="473.92" y2="559.9" stroke="#111" stroke-width="1.0"/>
<line x1="483.84" y1="558.3" x2="483.84" y2="559.9" stroke="#111" stroke-width="1.0"/>
<line x1="493.76" y1="558.3" x2="493.76" y2="559.9" stroke="#111" stroke-width="1.0"/>
<line x1="503.68" y1="558.3" x2="503.68" y2="559.9" stroke="#111" stroke-width="1.0"/>
<text x="0" y="0" transform="translate(415 585.1) scale(1 1.06)" font-size="8.6" text-anchor="middle" font-weight="normal" font-style="normal" fill="#111" stroke="#111" stroke-width="0.22">day after infection</text>
<text x="0" y="0" transform="translate(294.6 493.3) rotate(-90)" font-size="10.6" text-anchor="middle" font-weight="normal" font-style="normal" fill="#111" stroke="#111" stroke-width="0.22" textLength="32.4" lengthAdjust="spacingAndGlyphs">% iRBC</text>
<line x1="365.5" y1="418.1" x2="365.5" y2="429.6" stroke="#111" stroke-width="1.4"/>
<line x1="362" y1="421.2" x2="369" y2="421.2" stroke="#111" stroke-width="1.6"/>
<text x="0" y="0" transform="translate(370.8 425.9) scale(1 1.06)" font-size="8.9" text-anchor="start" font-weight="normal" font-style="normal" fill="#111" stroke="#111" stroke-width="0.22">4/5</text>
<g clip-path="url(#clipF)">
<polyline points="325.12,518.62 335.04,476.38 344.96,440.25 354.88,432.34 364.8,436.63 374.72,448.18 384.64,451.32 394.56,434.95 404.48,443.29 414.4,452.33 424.32,453.87 434.24,456.96 454.08,449.16 473.92,454.59 493.76,455.59 513.6,451.52" fill="none" stroke="#111" stroke-width="1.1" stroke-linejoin="miter"/>
<polyline points="325.12,540.75 335.04,479.38 344.96,443.86 354.88,435.27 364.8,438.53 374.72,479.38 384.64,460.51 394.56,447.87 404.48,450.85 414.4,462.05 424.32,461.65 434.24,457.25 454.08,464.24 473.92,467.67 493.76,469.93 513.6,489.51" fill="none" stroke="#111" stroke-width="1.1" stroke-linejoin="miter"/>
<polyline points="325.12,517.68 335.04,476.94 344.96,448.66 354.88,446.41 364.8,459.63 374.72,530.19 384.64,555.54" fill="none" stroke="#111" stroke-width="1.1" stroke-linejoin="miter"/>
<polyline points="325.12,539.48 335.04,481.52 344.96,474.84 354.88,437.36 364.8,446.41 374.72,524.55 384.64,539.89 394.56,524.55 404.48,535.9 414.4,557.49" fill="none" stroke="#111" stroke-width="1.1" stroke-linejoin="miter"/>
<line x1="325.12" y1="540.75" x2="325.12" y2="511.16" stroke="#111" stroke-width="1.0"/>
<line x1="322.12" y1="540.75" x2="328.12" y2="540.75" stroke="#111" stroke-width="1.0"/>
<line x1="322.12" y1="511.16" x2="328.12" y2="511.16" stroke="#111" stroke-width="1.0"/>
<line x1="374.72" y1="524.55" x2="374.72" y2="512.38" stroke="#111" stroke-width="1.0"/>
<line x1="371.72" y1="512.38" x2="377.72" y2="512.38" stroke="#111" stroke-width="1.0"/>
<line x1="384.64" y1="555.54" x2="384.64" y2="548.07" stroke="#111" stroke-width="1.0"/>
<line x1="381.64" y1="548.07" x2="387.64" y2="548.07" stroke="#111" stroke-width="1.0"/>
<line x1="394.56" y1="524.55" x2="394.56" y2="518.62" stroke="#111" stroke-width="1.0"/>
<line x1="391.56" y1="518.62" x2="397.56" y2="518.62" stroke="#111" stroke-width="1.0"/>
<line x1="404.48" y1="535.9" x2="404.48" y2="527.81" stroke="#111" stroke-width="1.0"/>
<line x1="401.48" y1="527.81" x2="407.48" y2="527.81" stroke="#111" stroke-width="1.0"/>
<line x1="374.72" y1="479.38" x2="374.72" y2="464.72" stroke="#111" stroke-width="1.0"/>
<line x1="371.72" y1="464.72" x2="377.72" y2="464.72" stroke="#111" stroke-width="1.0"/>
<line x1="434.24" y1="457.25" x2="434.24" y2="451.32" stroke="#111" stroke-width="1.0"/>
<line x1="431.24" y1="451.32" x2="437.24" y2="451.32" stroke="#111" stroke-width="1.0"/>
<line x1="493.76" y1="469.93" x2="493.76" y2="462.46" stroke="#111" stroke-width="1.0"/>
<line x1="490.76" y1="462.46" x2="496.76" y2="462.46" stroke="#111" stroke-width="1.0"/>
<line x1="513.6" y1="489.51" x2="513.6" y2="480.77" stroke="#111" stroke-width="1.0"/>
<line x1="510.6" y1="480.77" x2="516.6" y2="480.77" stroke="#111" stroke-width="1.0"/>
<line x1="344.96" y1="440.25" x2="344.96" y2="434.33" stroke="#111" stroke-width="1.0"/>
<line x1="341.96" y1="434.33" x2="347.96" y2="434.33" stroke="#111" stroke-width="1.0"/>
<line x1="354.88" y1="432.34" x2="354.88" y2="427.8" stroke="#111" stroke-width="1.0"/>
<line x1="351.88" y1="427.8" x2="357.88" y2="427.8" stroke="#111" stroke-width="1.0"/>
<circle cx="325.12" cy="540.75" r="3.4" fill="none" stroke="#111" stroke-width="1.8"/>
<circle cx="335.04" cy="479.38" r="3.4" fill="none" stroke="#111" stroke-width="1.8"/>
<circle cx="344.96" cy="443.86" r="3.4" fill="none" stroke="#111" stroke-width="1.8"/>
<circle cx="354.88" cy="435.27" r="3.4" fill="none" stroke="#111" stroke-width="1.8"/>
<circle cx="364.8" cy="438.53" r="3.4" fill="none" stroke="#111" stroke-width="1.8"/>
<circle cx="374.72" cy="479.38" r="3.4" fill="none" stroke="#111" stroke-width="1.8"/>
<circle cx="384.64" cy="460.51" r="3.4" fill="none" stroke="#111" stroke-width="1.8"/>
<circle cx="394.56" cy="447.87" r="3.4" fill="none" stroke="#111" stroke-width="1.8"/>
<circle cx="404.48" cy="450.85" r="3.4" fill="none" stroke="#111" stroke-width="1.8"/>
<circle cx="414.4" cy="462.05" r="3.4" fill="none" stroke="#111" stroke-width="1.8"/>
<circle cx="424.32" cy="461.65" r="3.4" fill="none" stroke="#111" stroke-width="1.8"/>
<circle cx="434.24" cy="457.25" r="3.4" fill="none" stroke="#111" stroke-width="1.8"/>
<circle cx="454.08" cy="464.24" r="3.4" fill="none" stroke="#111" stroke-width="1.8"/>
<circle cx="473.92" cy="467.67" r="3.4" fill="none" stroke="#111" stroke-width="1.8"/>
<circle cx="493.76" cy="469.93" r="3.4" fill="none" stroke="#111" stroke-width="1.8"/>
<circle cx="513.6" cy="489.51" r="3.4" fill="none" stroke="#111" stroke-width="1.8"/>
<polygon points="325.12,514.52 329.22,518.62 325.12,522.72 321.02,518.62" fill="none" stroke="#111" stroke-width="1.7"/>
<polygon points="335.04,472.28 339.14,476.38 335.04,480.48 330.94,476.38" fill="none" stroke="#111" stroke-width="1.7"/>
<polygon points="344.96,436.15 349.06,440.25 344.96,444.35 340.86,440.25" fill="none" stroke="#111" stroke-width="1.7"/>
<polygon points="354.88,428.24 358.98,432.34 354.88,436.44 350.78,432.34" fill="none" stroke="#111" stroke-width="1.7"/>
<polygon points="364.8,432.53 368.9,436.63 364.8,440.73 360.7,436.63" fill="none" stroke="#111" stroke-width="1.7"/>
<polygon points="374.72,444.08 378.82,448.18 374.72,452.28 370.62,448.18" fill="none" stroke="#111" stroke-width="1.7"/>
<polygon points="384.64,447.22 388.74,451.32 384.64,455.42 380.54,451.32" fill="none" stroke="#111" stroke-width="1.7"/>
<polygon points="394.56,430.85 398.66,434.95 394.56,439.05 390.46,434.95" fill="none" stroke="#111" stroke-width="1.7"/>
<polygon points="404.48,439.19 408.58,443.29 404.48,447.39 400.38,443.29" fill="none" stroke="#111" stroke-width="1.7"/>
<polygon points="414.4,448.23 418.5,452.33 414.4,456.43 410.3,452.33" fill="none" stroke="#111" stroke-width="1.7"/>
<polygon points="424.32,449.77 428.42,453.87 424.32,457.97 420.22,453.87" fill="none" stroke="#111" stroke-width="1.7"/>
<polygon points="434.24,452.86 438.34,456.96 434.24,461.06 430.14,456.96" fill="none" stroke="#111" stroke-width="1.7"/>
<polygon points="454.08,445.06 458.18,449.16 454.08,453.26 449.98,449.16" fill="none" stroke="#111" stroke-width="1.7"/>
<polygon points="473.92,450.49 478.02,454.59 473.92,458.69 469.82,454.59" fill="none" stroke="#111" stroke-width="1.7"/>
<polygon points="493.76,451.49 497.86,455.59 493.76,459.69 489.66,455.59" fill="none" stroke="#111" stroke-width="1.7"/>
<polygon points="513.6,447.42 517.7,451.52 513.6,455.62 509.5,451.52" fill="none" stroke="#111" stroke-width="1.7"/>
<circle cx="325.12" cy="517.68" r="3.7" fill="#111" stroke="#111" stroke-width="1.0"/>
<circle cx="335.04" cy="476.94" r="3.7" fill="#111" stroke="#111" stroke-width="1.0"/>
<circle cx="344.96" cy="448.66" r="3.7" fill="#111" stroke="#111" stroke-width="1.0"/>
<circle cx="354.88" cy="446.41" r="3.7" fill="#111" stroke="#111" stroke-width="1.0"/>
<circle cx="364.8" cy="459.63" r="3.7" fill="#111" stroke="#111" stroke-width="1.0"/>
<circle cx="374.72" cy="530.19" r="3.7" fill="#111" stroke="#111" stroke-width="1.0"/>
<circle cx="384.64" cy="555.54" r="3.7" fill="#111" stroke="#111" stroke-width="1.0"/>
<polygon points="335.04,477 339.34,484.74 330.74,484.74" fill="#fff" stroke="#111" stroke-width="1.2" stroke-linejoin="miter"/>
<polygon points="344.96,470.33 349.26,478.07 340.66,478.07" fill="#fff" stroke="#111" stroke-width="1.2" stroke-linejoin="miter"/>
<polygon points="354.88,432.85 359.18,440.59 350.58,440.59" fill="#fff" stroke="#111" stroke-width="1.2" stroke-linejoin="miter"/>
<polygon points="364.8,441.89 369.1,449.63 360.5,449.63" fill="#fff" stroke="#111" stroke-width="1.2" stroke-linejoin="miter"/>
<polygon points="374.72,520.03 379.02,527.77 370.42,527.77" fill="#fff" stroke="#111" stroke-width="1.2" stroke-linejoin="miter"/>
<polygon points="384.64,535.38 388.94,543.12 380.34,543.12" fill="#fff" stroke="#111" stroke-width="1.2" stroke-linejoin="miter"/>
<polygon points="394.56,520.03 398.86,527.77 390.26,527.77" fill="#fff" stroke="#111" stroke-width="1.2" stroke-linejoin="miter"/>
<polygon points="404.48,531.38 408.78,539.12 400.18,539.12" fill="#fff" stroke="#111" stroke-width="1.2" stroke-linejoin="miter"/>
<polygon points="414.4,552.97 418.7,560.71 410.1,560.71" fill="#fff" stroke="#111" stroke-width="1.2" stroke-linejoin="miter"/>
</g>
<line x1="423.2" y1="486.6" x2="423.2" y2="549" stroke="#111" stroke-width="1.4"/>
<line x1="423.2" y1="549" x2="517.6" y2="549" stroke="#111" stroke-width="1.4"/>
<line x1="421.2" y1="542.07" x2="423.2" y2="542.07" stroke="#111" stroke-width="0.8"/>
<text x="0" y="0" transform="translate(420.7 543.67) scale(1 1.06)" font-size="4.5" text-anchor="end" font-weight="normal" font-style="normal" fill="#111" stroke="#111" stroke-width="0">5</text>
<line x1="421.2" y1="528.2" x2="423.2" y2="528.2" stroke="#111" stroke-width="0.8"/>
<text x="0" y="0" transform="translate(420.7 529.8) scale(1 1.06)" font-size="4.5" text-anchor="end" font-weight="normal" font-style="normal" fill="#111" stroke="#111" stroke-width="0">15</text>
<line x1="421.2" y1="514.33" x2="423.2" y2="514.33" stroke="#111" stroke-width="0.8"/>
<text x="0" y="0" transform="translate(420.7 515.93) scale(1 1.06)" font-size="4.5" text-anchor="end" font-weight="normal" font-style="normal" fill="#111" stroke="#111" stroke-width="0">25</text>
<line x1="421.2" y1="500.45" x2="423.2" y2="500.45" stroke="#111" stroke-width="0.8"/>
<text x="0" y="0" transform="translate(420.7 502.06) scale(1 1.06)" font-size="4.5" text-anchor="end" font-weight="normal" font-style="normal" fill="#111" stroke="#111" stroke-width="0">35</text>
<line x1="421.2" y1="486.58" x2="423.2" y2="486.58" stroke="#111" stroke-width="0.8"/>
<text x="0" y="0" transform="translate(420.7 488.19) scale(1 1.06)" font-size="4.5" text-anchor="end" font-weight="normal" font-style="normal" fill="#111" stroke="#111" stroke-width="0">45</text>
<line x1="423.2" y1="549" x2="423.2" y2="550.5" stroke="#111" stroke-width="0.8"/>
<text x="0" y="0" transform="translate(423.2 555.2) scale(1 1.06)" font-size="4.5" text-anchor="middle" font-weight="normal" font-style="normal" fill="#111" stroke="#111" stroke-width="0">0</text>
<line x1="436.68" y1="549" x2="436.68" y2="550.5" stroke="#111" stroke-width="0.8"/>
<text x="0" y="0" transform="translate(436.68 555.2) scale(1 1.06)" font-size="4.5" text-anchor="middle" font-weight="normal" font-style="normal" fill="#111" stroke="#111" stroke-width="0">2</text>
<line x1="450.16" y1="549" x2="450.16" y2="550.5" stroke="#111" stroke-width="0.8"/>
<text x="0" y="0" transform="translate(450.16 555.2) scale(1 1.06)" font-size="4.5" text-anchor="middle" font-weight="normal" font-style="normal" fill="#111" stroke="#111" stroke-width="0">4</text>
<line x1="463.64" y1="549" x2="463.64" y2="550.5" stroke="#111" stroke-width="0.8"/>
<text x="0" y="0" transform="translate(463.64 555.2) scale(1 1.06)" font-size="4.5" text-anchor="middle" font-weight="normal" font-style="normal" fill="#111" stroke="#111" stroke-width="0">6</text>
<line x1="477.12" y1="549" x2="477.12" y2="550.5" stroke="#111" stroke-width="0.8"/>
<text x="0" y="0" transform="translate(477.12 555.2) scale(1 1.06)" font-size="4.5" text-anchor="middle" font-weight="normal" font-style="normal" fill="#111" stroke="#111" stroke-width="0">8</text>
<line x1="490.6" y1="549" x2="490.6" y2="550.5" stroke="#111" stroke-width="0.8"/>
<text x="0" y="0" transform="translate(490.6 555.2) scale(1 1.06)" font-size="4.5" text-anchor="middle" font-weight="normal" font-style="normal" fill="#111" stroke="#111" stroke-width="0">10</text>
<line x1="504.08" y1="549" x2="504.08" y2="550.5" stroke="#111" stroke-width="0.8"/>
<text x="0" y="0" transform="translate(504.08 555.2) scale(1 1.06)" font-size="4.5" text-anchor="middle" font-weight="normal" font-style="normal" fill="#111" stroke="#111" stroke-width="0">12</text>
<line x1="517.56" y1="549" x2="517.56" y2="550.5" stroke="#111" stroke-width="0.8"/>
<text x="0" y="0" transform="translate(517.56 555.2) scale(1 1.06)" font-size="4.5" text-anchor="middle" font-weight="normal" font-style="normal" fill="#111" stroke="#111" stroke-width="0">14</text>
<text x="0" y="0" transform="translate(410.4 517.8) rotate(-90) scale(1 1.06)" font-size="5" text-anchor="middle" font-weight="normal" font-style="normal" fill="#111" stroke="#111" stroke-width="0">% iRBC</text>
<polyline points="436.68,549 450.16,547.61 463.64,545.81 477.12,497.68 490.6,521.26 504.08,549" fill="none" stroke="#111" stroke-width="1.5" stroke-linejoin="miter"/>
<polyline points="436.68,549 450.16,547.61 463.64,527.5 477.12,520.43 490.6,539.43 504.08,549" fill="none" stroke="#111" stroke-width="1.5" stroke-linejoin="miter"/>
<line x1="463.64" y1="535.13" x2="463.64" y2="519.18" stroke="#111" stroke-width="1.0"/>
<line x1="461.14" y1="535.13" x2="466.14" y2="535.13" stroke="#111" stroke-width="1.0"/>
<line x1="461.14" y1="519.18" x2="466.14" y2="519.18" stroke="#111" stroke-width="1.0"/>
<line x1="477.12" y1="528.2" x2="477.12" y2="512.24" stroke="#111" stroke-width="1.0"/>
<line x1="474.62" y1="528.2" x2="479.62" y2="528.2" stroke="#111" stroke-width="1.0"/>
<line x1="474.62" y1="512.24" x2="479.62" y2="512.24" stroke="#111" stroke-width="1.0"/>
<line x1="477.12" y1="503.23" x2="477.12" y2="492.13" stroke="#111" stroke-width="1.0"/>
<line x1="474.62" y1="503.23" x2="479.62" y2="503.23" stroke="#111" stroke-width="1.0"/>
<line x1="474.62" y1="492.13" x2="479.62" y2="492.13" stroke="#111" stroke-width="1.0"/>
<line x1="490.6" y1="524.73" x2="490.6" y2="517.79" stroke="#111" stroke-width="1.0"/>
<line x1="488.1" y1="524.73" x2="493.1" y2="524.73" stroke="#111" stroke-width="1.0"/>
<line x1="488.1" y1="517.79" x2="493.1" y2="517.79" stroke="#111" stroke-width="1.0"/>
<line x1="490.6" y1="542.07" x2="490.6" y2="536.52" stroke="#111" stroke-width="1.0"/>
<line x1="488.1" y1="542.07" x2="493.1" y2="542.07" stroke="#111" stroke-width="1.0"/>
<line x1="488.1" y1="536.52" x2="493.1" y2="536.52" stroke="#111" stroke-width="1.0"/>
<circle cx="450.16" cy="547.61" r="2.3" fill="#111" stroke="#111" stroke-width="1.0"/>
<circle cx="463.64" cy="527.5" r="2.3" fill="#111" stroke="#111" stroke-width="1.0"/>
<circle cx="477.12" cy="520.43" r="2.3" fill="#111" stroke="#111" stroke-width="1.0"/>
<circle cx="490.6" cy="539.43" r="2.3" fill="#111" stroke="#111" stroke-width="1.0"/>
<polygon points="450.16,544.67 452.96,549.71 447.36,549.71" fill="#fff" stroke="#111" stroke-width="1.1" stroke-linejoin="miter"/>
<polygon points="463.64,542.87 466.44,547.91 460.84,547.91" fill="#fff" stroke="#111" stroke-width="1.1" stroke-linejoin="miter"/>
<polygon points="477.12,494.74 479.92,499.78 474.32,499.78" fill="#fff" stroke="#111" stroke-width="1.1" stroke-linejoin="miter"/>
<polygon points="490.6,518.32 493.4,523.36 487.8,523.36" fill="#fff" stroke="#111" stroke-width="1.1" stroke-linejoin="miter"/>
<circle cx="436.68" cy="548.2" r="1.6" fill="#111" stroke="#111" stroke-width="1.0"/>
<text x="0" y="0" transform="translate(476.82 491.6) scale(1 1.06)" font-size="12" text-anchor="middle" font-weight="bold" font-style="normal" fill="#111" stroke="#111" stroke-width="0.22">*</text>
<line x1="293.5" y1="608.8" x2="317.5" y2="608.8" stroke="#111" stroke-width="1.4"/>
<polygon points="307.9,604 312.9,608.8 307.9,613.6 302.9,608.8" fill="none" stroke="#111" stroke-width="1.7"/>
<text x="0" y="0" transform="translate(322.3 612.4) scale(1 1.06)" font-size="12.4" text-anchor="start" font-weight="normal" font-style="normal" fill="#111" stroke="#111" stroke-width="0.22">imm B cells Ag</text>
<line x1="293.5" y1="625.2" x2="317.5" y2="625.2" stroke="#111" stroke-width="1.4"/>
<ellipse cx="307.9" cy="625.2" rx="3.7" ry="3.6" fill="none" stroke="#111" stroke-width="1.9"/>
<text x="0" y="0" transform="translate(322.3 628.8) scale(1 1.06)" font-size="12.4" text-anchor="start" font-weight="normal" font-style="normal" fill="#111" stroke="#111" stroke-width="0.22">B5 CD4+ Ag</text>
<line x1="293.5" y1="641.2" x2="317.5" y2="641.2" stroke="#111" stroke-width="1.4"/>
<ellipse cx="307.9" cy="641.2" rx="4.7" ry="4.4" fill="#111" stroke="#111" stroke-width="1.0"/>
<text x="0" y="0" transform="translate(322.3 644.8) scale(1 1.06)" font-size="12.4" text-anchor="start" font-weight="normal" font-style="normal" fill="#111" stroke="#111" stroke-width="0.22">B5 CD4+&#160;&#160;imm B cells Ag</text>
<line x1="293.5" y1="656.9" x2="317.5" y2="656.9" stroke="#111" stroke-width="1.4"/>
<polygon points="307.9,651.86 312.9,660.26 302.9,660.26" fill="none" stroke="#111" stroke-width="1.3"/>
<text x="0" y="0" transform="translate(322.3 660.5) scale(1 1.06)" font-size="12.4" text-anchor="start" font-weight="normal" font-style="normal" fill="#111" stroke="#111" stroke-width="0.22">WT CD4+ imm B cells Ag</text>
</svg></body></html>
